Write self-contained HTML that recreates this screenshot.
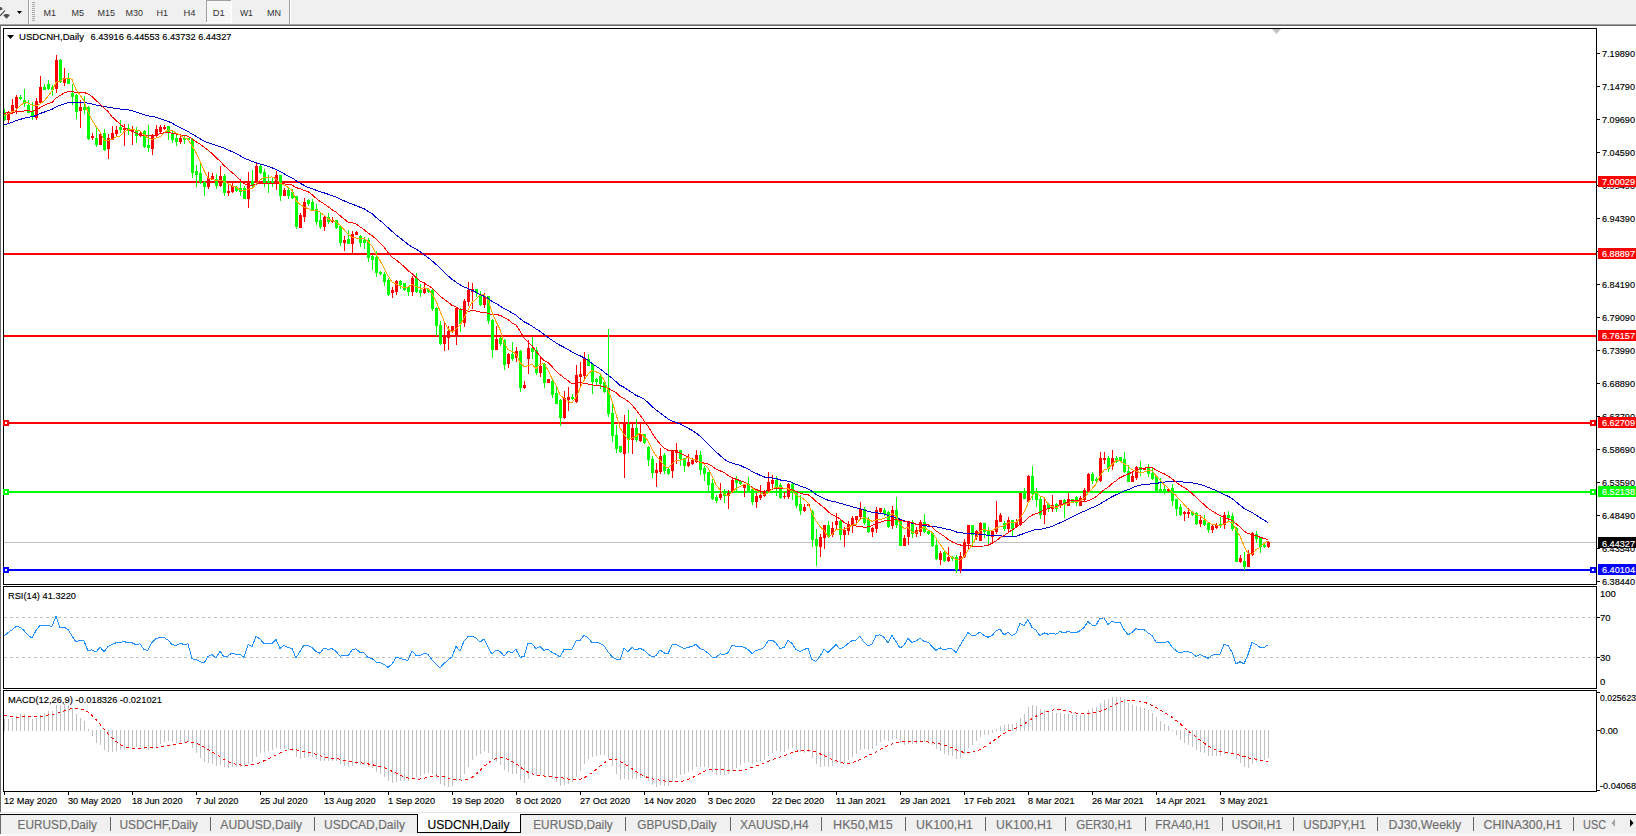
<!DOCTYPE html>
<html><head><meta charset="utf-8"><style>
html,body{margin:0;padding:0;background:#fff;overflow:hidden;}
svg text{font-family:"Liberation Sans", sans-serif;}
</style></head><body>
<svg width="1636" height="836" viewBox="0 0 1636 836" style="display:block">
<rect x="0" y="0" width="1636" height="24" fill="#f0f0f0"/>
<rect x="0" y="24" width="1636" height="1" fill="#a0a0a0"/>
<rect x="0" y="25" width="1636" height="1" fill="#696969"/>
<rect x="0" y="26" width="1636" height="787" fill="#ffffff"/>
<rect x="28" y="0" width="1" height="24" fill="#a0a0a0"/>
<rect x="29" y="0" width="1" height="24" fill="#ffffff"/>
<rect x="32" y="2" width="3" height="1" fill="#a8a8a8"/>
<rect x="32" y="4" width="3" height="1" fill="#a8a8a8"/>
<rect x="32" y="6" width="3" height="1" fill="#a8a8a8"/>
<rect x="32" y="8" width="3" height="1" fill="#a8a8a8"/>
<rect x="32" y="10" width="3" height="1" fill="#a8a8a8"/>
<rect x="32" y="12" width="3" height="1" fill="#a8a8a8"/>
<rect x="32" y="14" width="3" height="1" fill="#a8a8a8"/>
<rect x="32" y="16" width="3" height="1" fill="#a8a8a8"/>
<rect x="32" y="18" width="3" height="1" fill="#a8a8a8"/>
<rect x="32" y="20" width="3" height="1" fill="#a8a8a8"/>
<rect x="289" y="0" width="1" height="24" fill="#a0a0a0"/>
<rect x="290" y="0" width="1" height="24" fill="#ffffff"/>
<rect x="206" y="0" width="26" height="23" fill="#ffffff"/>
<rect x="207" y="1" width="24" height="21" fill="#f7f7f7"/>
<rect x="206" y="0" width="25" height="1" fill="#a0a0a0"/>
<rect x="206" y="0" width="1" height="22" fill="#a0a0a0"/>
<text x="43.5" y="16" font-size="9.4" fill="#333333" textLength="12.5" lengthAdjust="spacingAndGlyphs">M1</text>
<text x="71.6" y="16" font-size="9.4" fill="#333333" textLength="12.5" lengthAdjust="spacingAndGlyphs">M5</text>
<text x="97.6" y="16" font-size="9.4" fill="#333333" textLength="17.5" lengthAdjust="spacingAndGlyphs">M15</text>
<text x="125.4" y="16" font-size="9.4" fill="#333333" textLength="17.5" lengthAdjust="spacingAndGlyphs">M30</text>
<text x="156.4" y="16" font-size="9.4" fill="#333333" textLength="11.5" lengthAdjust="spacingAndGlyphs">H1</text>
<text x="183.4" y="16" font-size="9.4" fill="#333333" textLength="12" lengthAdjust="spacingAndGlyphs">H4</text>
<text x="212.8" y="16" font-size="9.4" fill="#333333" textLength="12" lengthAdjust="spacingAndGlyphs">D1</text>
<text x="239.9" y="16" font-size="9.4" fill="#333333" textLength="13" lengthAdjust="spacingAndGlyphs">W1</text>
<text x="266.9" y="16" font-size="9.4" fill="#333333" textLength="14" lengthAdjust="spacingAndGlyphs">MN</text>
<g stroke="#fff" stroke-width="1" paint-order="stroke" stroke-linejoin="round">
<path d="M0 7 L1.2 7 L3 9.3 L0 10.5 Z" fill="#505050"/>
<path d="M0 15.8 L4.9 10.6" stroke="#404040" stroke-width="1.1" fill="none"/>
<path d="M3.2 15.3 L5 14 L8 14 L9.9 15.3 L6.5 18.8 Z" fill="#505050"/>
</g>
<path d="M1272 29 L1281 29 L1276.5 34 Z" fill="#c0c0c0"/>
<path d="M17 11 L22 11 L19.5 14 Z" fill="#000"/>
<rect x="0" y="26" width="1" height="786" fill="#6b6b6b"/>
<rect x="3" y="28" width="1594" height="1" fill="#000"/>
<rect x="3" y="584" width="1594" height="1" fill="#000"/>
<rect x="3" y="28" width="1" height="557" fill="#000"/>
<rect x="1596" y="28" width="1" height="557" fill="#000"/>
<rect x="3" y="586" width="1594" height="1" fill="#000"/>
<rect x="3" y="688" width="1594" height="1" fill="#000"/>
<rect x="3" y="586" width="1" height="103" fill="#000"/>
<rect x="1596" y="586" width="1" height="103" fill="#000"/>
<rect x="3" y="690" width="1594" height="1" fill="#000"/>
<rect x="3" y="791" width="1594" height="1" fill="#000"/>
<rect x="3" y="690" width="1" height="102" fill="#000"/>
<rect x="1596" y="690" width="1" height="102" fill="#000"/>
<g shape-rendering="crispEdges">
<rect x="1597" y="53" width="3" height="1" fill="#000"/>
<text x="1602" y="57" font-size="9.5" fill="#000" textLength="33" lengthAdjust="spacingAndGlyphs" stroke="#000" stroke-width="0.15">7.19890</text>
<rect x="1597" y="86" width="3" height="1" fill="#000"/>
<text x="1602" y="90" font-size="9.5" fill="#000" textLength="33" lengthAdjust="spacingAndGlyphs" stroke="#000" stroke-width="0.15">7.14790</text>
<rect x="1597" y="119" width="3" height="1" fill="#000"/>
<text x="1602" y="123" font-size="9.5" fill="#000" textLength="33" lengthAdjust="spacingAndGlyphs" stroke="#000" stroke-width="0.15">7.09690</text>
<rect x="1597" y="152" width="3" height="1" fill="#000"/>
<text x="1602" y="156" font-size="9.5" fill="#000" textLength="33" lengthAdjust="spacingAndGlyphs" stroke="#000" stroke-width="0.15">7.04590</text>
<rect x="1597" y="185" width="3" height="1" fill="#000"/>
<text x="1602" y="189" font-size="9.5" fill="#000" textLength="33" lengthAdjust="spacingAndGlyphs" stroke="#000" stroke-width="0.15">6.99490</text>
<rect x="1597" y="218" width="3" height="1" fill="#000"/>
<text x="1602" y="222" font-size="9.5" fill="#000" textLength="33" lengthAdjust="spacingAndGlyphs" stroke="#000" stroke-width="0.15">6.94390</text>
<rect x="1597" y="251" width="3" height="1" fill="#000"/>
<text x="1602" y="255" font-size="9.5" fill="#000" textLength="33" lengthAdjust="spacingAndGlyphs" stroke="#000" stroke-width="0.15">6.89290</text>
<rect x="1597" y="284" width="3" height="1" fill="#000"/>
<text x="1602" y="288" font-size="9.5" fill="#000" textLength="33" lengthAdjust="spacingAndGlyphs" stroke="#000" stroke-width="0.15">6.84190</text>
<rect x="1597" y="317" width="3" height="1" fill="#000"/>
<text x="1602" y="321" font-size="9.5" fill="#000" textLength="33" lengthAdjust="spacingAndGlyphs" stroke="#000" stroke-width="0.15">6.79090</text>
<rect x="1597" y="350" width="3" height="1" fill="#000"/>
<text x="1602" y="354" font-size="9.5" fill="#000" textLength="33" lengthAdjust="spacingAndGlyphs" stroke="#000" stroke-width="0.15">6.73990</text>
<rect x="1597" y="383" width="3" height="1" fill="#000"/>
<text x="1602" y="387" font-size="9.5" fill="#000" textLength="33" lengthAdjust="spacingAndGlyphs" stroke="#000" stroke-width="0.15">6.68890</text>
<rect x="1597" y="416" width="3" height="1" fill="#000"/>
<text x="1602" y="420" font-size="9.5" fill="#000" textLength="33" lengthAdjust="spacingAndGlyphs" stroke="#000" stroke-width="0.15">6.63790</text>
<rect x="1597" y="449" width="3" height="1" fill="#000"/>
<text x="1602" y="453" font-size="9.5" fill="#000" textLength="33" lengthAdjust="spacingAndGlyphs" stroke="#000" stroke-width="0.15">6.58690</text>
<rect x="1597" y="482" width="3" height="1" fill="#000"/>
<text x="1602" y="486" font-size="9.5" fill="#000" textLength="33" lengthAdjust="spacingAndGlyphs" stroke="#000" stroke-width="0.15">6.53590</text>
<rect x="1597" y="515" width="3" height="1" fill="#000"/>
<text x="1602" y="519" font-size="9.5" fill="#000" textLength="33" lengthAdjust="spacingAndGlyphs" stroke="#000" stroke-width="0.15">6.48490</text>
<rect x="1597" y="548" width="3" height="1" fill="#000"/>
<text x="1602" y="552" font-size="9.5" fill="#000" textLength="33" lengthAdjust="spacingAndGlyphs" stroke="#000" stroke-width="0.15">6.43540</text>
<rect x="1597" y="581" width="3" height="1" fill="#000"/>
<text x="1602" y="585" font-size="9.5" fill="#000" textLength="33" lengthAdjust="spacingAndGlyphs" stroke="#000" stroke-width="0.15">6.38440</text>
</g>
<rect x="4" y="181" width="1592" height="2" fill="#ff0000"/>
<rect x="4" y="253" width="1592" height="2" fill="#ff0000"/>
<rect x="4" y="335" width="1592" height="2" fill="#ff0000"/>
<rect x="4" y="422" width="1592" height="2" fill="#ff0000"/>
<rect x="3" y="420" width="6" height="6" fill="#ff0000"/>
<rect x="5" y="422" width="2" height="2" fill="#fff"/>
<rect x="1590" y="420" width="6" height="6" fill="#ff0000"/>
<rect x="1592" y="422" width="2" height="2" fill="#fff"/>
<rect x="4" y="491" width="1592" height="2" fill="#00ff00"/>
<rect x="3" y="489" width="6" height="6" fill="#00ff00"/>
<rect x="5" y="491" width="2" height="2" fill="#fff"/>
<rect x="1590" y="489" width="6" height="6" fill="#00ff00"/>
<rect x="1592" y="491" width="2" height="2" fill="#fff"/>
<rect x="4" y="569" width="1592" height="2" fill="#0000ff"/>
<rect x="3" y="567" width="6" height="6" fill="#0000ff"/>
<rect x="5" y="569" width="2" height="2" fill="#fff"/>
<rect x="1590" y="567" width="6" height="6" fill="#0000ff"/>
<rect x="1592" y="569" width="2" height="2" fill="#fff"/>
<rect x="4" y="542" width="1592" height="1" fill="#c0c0c0"/>
<g shape-rendering="crispEdges">
<rect x="4" y="109" width="1" height="12" fill="#00ff00"/>
<rect x="4" y="112" width="2" height="8" fill="#00ff00"/>
<rect x="8" y="111" width="1" height="12" fill="#ff0000"/>
<rect x="7" y="112" width="3" height="8" fill="#ff0000"/>
<rect x="12" y="99" width="1" height="15" fill="#ff0000"/>
<rect x="11" y="105" width="3" height="8" fill="#ff0000"/>
<rect x="16" y="95" width="1" height="19" fill="#ff0000"/>
<rect x="15" y="97" width="3" height="11" fill="#ff0000"/>
<rect x="20" y="95" width="1" height="5" fill="#00ff00"/>
<rect x="19" y="97" width="3" height="2" fill="#00ff00"/>
<rect x="24" y="89" width="1" height="18" fill="#00ff00"/>
<rect x="23" y="100" width="3" height="4" fill="#00ff00"/>
<rect x="28" y="100" width="1" height="13" fill="#00ff00"/>
<rect x="27" y="105" width="3" height="8" fill="#00ff00"/>
<rect x="32" y="102" width="1" height="18" fill="#00ff00"/>
<rect x="31" y="111" width="3" height="6" fill="#00ff00"/>
<rect x="36" y="98" width="1" height="22" fill="#ff0000"/>
<rect x="35" y="101" width="3" height="17" fill="#ff0000"/>
<rect x="40" y="76" width="1" height="28" fill="#ff0000"/>
<rect x="39" y="87" width="3" height="16" fill="#ff0000"/>
<rect x="44" y="84" width="1" height="6" fill="#00ff00"/>
<rect x="43" y="87" width="3" height="3" fill="#00ff00"/>
<rect x="48" y="80" width="1" height="10" fill="#00ff00"/>
<rect x="47" y="84" width="3" height="5" fill="#00ff00"/>
<rect x="52" y="85" width="1" height="11" fill="#00ff00"/>
<rect x="51" y="87" width="3" height="3" fill="#00ff00"/>
<rect x="56" y="55" width="1" height="38" fill="#ff0000"/>
<rect x="55" y="60" width="3" height="29" fill="#ff0000"/>
<rect x="60" y="59" width="1" height="24" fill="#00ff00"/>
<rect x="59" y="60" width="3" height="22" fill="#00ff00"/>
<rect x="64" y="68" width="1" height="18" fill="#ff0000"/>
<rect x="63" y="78" width="3" height="5" fill="#ff0000"/>
<rect x="68" y="73" width="1" height="11" fill="#00ff00"/>
<rect x="67" y="78" width="3" height="6" fill="#00ff00"/>
<rect x="72" y="84" width="1" height="21" fill="#00ff00"/>
<rect x="71" y="93" width="3" height="4" fill="#00ff00"/>
<rect x="76" y="94" width="1" height="25" fill="#00ff00"/>
<rect x="75" y="95" width="3" height="17" fill="#00ff00"/>
<rect x="80" y="100" width="1" height="28" fill="#ff0000"/>
<rect x="79" y="107" width="3" height="4" fill="#ff0000"/>
<rect x="84" y="96" width="1" height="18" fill="#00ff00"/>
<rect x="83" y="107" width="3" height="3" fill="#00ff00"/>
<rect x="88" y="106" width="1" height="34" fill="#00ff00"/>
<rect x="87" y="107" width="3" height="32" fill="#00ff00"/>
<rect x="92" y="133" width="1" height="7" fill="#ff0000"/>
<rect x="91" y="136" width="3" height="2" fill="#ff0000"/>
<rect x="96" y="127" width="1" height="20" fill="#00ff00"/>
<rect x="95" y="138" width="3" height="7" fill="#00ff00"/>
<rect x="100" y="133" width="1" height="12" fill="#ff0000"/>
<rect x="99" y="134" width="3" height="11" fill="#ff0000"/>
<rect x="104" y="129" width="1" height="22" fill="#00ff00"/>
<rect x="103" y="133" width="3" height="17" fill="#00ff00"/>
<rect x="108" y="134" width="1" height="25" fill="#ff0000"/>
<rect x="107" y="138" width="3" height="11" fill="#ff0000"/>
<rect x="112" y="126" width="1" height="14" fill="#ff0000"/>
<rect x="111" y="133" width="3" height="7" fill="#ff0000"/>
<rect x="116" y="126" width="1" height="10" fill="#ff0000"/>
<rect x="115" y="130" width="3" height="4" fill="#ff0000"/>
<rect x="120" y="120" width="1" height="13" fill="#00ff00"/>
<rect x="119" y="127" width="3" height="3" fill="#00ff00"/>
<rect x="124" y="124" width="1" height="22" fill="#ff0000"/>
<rect x="123" y="128" width="3" height="2" fill="#ff0000"/>
<rect x="128" y="124" width="1" height="11" fill="#00ff00"/>
<rect x="127" y="128" width="3" height="3" fill="#00ff00"/>
<rect x="132" y="126" width="1" height="19" fill="#ff0000"/>
<rect x="131" y="130" width="3" height="2" fill="#ff0000"/>
<rect x="136" y="127" width="1" height="16" fill="#00ff00"/>
<rect x="135" y="131" width="3" height="5" fill="#00ff00"/>
<rect x="140" y="132" width="1" height="5" fill="#ff0000"/>
<rect x="139" y="133" width="3" height="3" fill="#ff0000"/>
<rect x="144" y="130" width="1" height="18" fill="#00ff00"/>
<rect x="143" y="131" width="3" height="16" fill="#00ff00"/>
<rect x="148" y="125" width="1" height="27" fill="#00ff00"/>
<rect x="147" y="145" width="3" height="3" fill="#00ff00"/>
<rect x="152" y="134" width="1" height="21" fill="#ff0000"/>
<rect x="151" y="135" width="3" height="14" fill="#ff0000"/>
<rect x="156" y="125" width="1" height="12" fill="#ff0000"/>
<rect x="155" y="129" width="3" height="7" fill="#ff0000"/>
<rect x="160" y="125" width="1" height="9" fill="#ff0000"/>
<rect x="159" y="127" width="3" height="5" fill="#ff0000"/>
<rect x="164" y="125" width="1" height="5" fill="#ff0000"/>
<rect x="163" y="127" width="3" height="2" fill="#ff0000"/>
<rect x="168" y="126" width="1" height="14" fill="#00ff00"/>
<rect x="167" y="126" width="3" height="6" fill="#00ff00"/>
<rect x="172" y="131" width="1" height="12" fill="#00ff00"/>
<rect x="171" y="134" width="3" height="6" fill="#00ff00"/>
<rect x="176" y="135" width="1" height="11" fill="#00ff00"/>
<rect x="175" y="138" width="3" height="4" fill="#00ff00"/>
<rect x="180" y="136" width="1" height="8" fill="#ff0000"/>
<rect x="179" y="138" width="3" height="4" fill="#ff0000"/>
<rect x="184" y="136" width="1" height="8" fill="#00ff00"/>
<rect x="183" y="138" width="3" height="2" fill="#00ff00"/>
<rect x="188" y="138" width="1" height="2" fill="#00ff00"/>
<rect x="187" y="138" width="3" height="2" fill="#00ff00"/>
<rect x="192" y="138" width="1" height="40" fill="#00ff00"/>
<rect x="191" y="139" width="3" height="34" fill="#00ff00"/>
<rect x="196" y="165" width="1" height="22" fill="#00ff00"/>
<rect x="195" y="171" width="3" height="4" fill="#00ff00"/>
<rect x="200" y="163" width="1" height="21" fill="#00ff00"/>
<rect x="199" y="173" width="3" height="9" fill="#00ff00"/>
<rect x="204" y="181" width="1" height="15" fill="#00ff00"/>
<rect x="203" y="182" width="3" height="5" fill="#00ff00"/>
<rect x="208" y="172" width="1" height="17" fill="#ff0000"/>
<rect x="207" y="178" width="3" height="9" fill="#ff0000"/>
<rect x="212" y="173" width="1" height="7" fill="#ff0000"/>
<rect x="211" y="176" width="3" height="4" fill="#ff0000"/>
<rect x="216" y="174" width="1" height="15" fill="#00ff00"/>
<rect x="215" y="179" width="3" height="7" fill="#00ff00"/>
<rect x="220" y="166" width="1" height="21" fill="#ff0000"/>
<rect x="219" y="176" width="3" height="10" fill="#ff0000"/>
<rect x="224" y="174" width="1" height="22" fill="#00ff00"/>
<rect x="223" y="176" width="3" height="17" fill="#00ff00"/>
<rect x="228" y="185" width="1" height="11" fill="#ff0000"/>
<rect x="227" y="191" width="3" height="2" fill="#ff0000"/>
<rect x="232" y="183" width="1" height="10" fill="#ff0000"/>
<rect x="231" y="186" width="3" height="6" fill="#ff0000"/>
<rect x="236" y="186" width="1" height="6" fill="#00ff00"/>
<rect x="235" y="187" width="3" height="4" fill="#00ff00"/>
<rect x="240" y="182" width="1" height="14" fill="#00ff00"/>
<rect x="239" y="188" width="3" height="4" fill="#00ff00"/>
<rect x="244" y="186" width="1" height="13" fill="#00ff00"/>
<rect x="243" y="188" width="3" height="11" fill="#00ff00"/>
<rect x="248" y="172" width="1" height="36" fill="#ff0000"/>
<rect x="247" y="181" width="3" height="18" fill="#ff0000"/>
<rect x="252" y="170" width="1" height="17" fill="#00ff00"/>
<rect x="251" y="181" width="3" height="5" fill="#00ff00"/>
<rect x="256" y="163" width="1" height="22" fill="#ff0000"/>
<rect x="255" y="166" width="3" height="17" fill="#ff0000"/>
<rect x="260" y="165" width="1" height="9" fill="#00ff00"/>
<rect x="259" y="166" width="3" height="7" fill="#00ff00"/>
<rect x="264" y="169" width="1" height="18" fill="#00ff00"/>
<rect x="263" y="172" width="3" height="11" fill="#00ff00"/>
<rect x="268" y="175" width="1" height="18" fill="#00ff00"/>
<rect x="267" y="181" width="3" height="2" fill="#00ff00"/>
<rect x="272" y="177" width="1" height="10" fill="#00ff00"/>
<rect x="271" y="181" width="3" height="2" fill="#00ff00"/>
<rect x="276" y="171" width="1" height="19" fill="#ff0000"/>
<rect x="275" y="175" width="3" height="8" fill="#ff0000"/>
<rect x="280" y="175" width="1" height="26" fill="#00ff00"/>
<rect x="279" y="175" width="3" height="21" fill="#00ff00"/>
<rect x="284" y="188" width="1" height="8" fill="#ff0000"/>
<rect x="283" y="190" width="3" height="6" fill="#ff0000"/>
<rect x="288" y="188" width="1" height="11" fill="#00ff00"/>
<rect x="287" y="190" width="3" height="6" fill="#00ff00"/>
<rect x="292" y="189" width="1" height="10" fill="#00ff00"/>
<rect x="291" y="192" width="3" height="6" fill="#00ff00"/>
<rect x="296" y="196" width="1" height="33" fill="#00ff00"/>
<rect x="295" y="196" width="3" height="31" fill="#00ff00"/>
<rect x="300" y="213" width="1" height="15" fill="#ff0000"/>
<rect x="299" y="215" width="3" height="13" fill="#ff0000"/>
<rect x="304" y="198" width="1" height="24" fill="#ff0000"/>
<rect x="303" y="202" width="3" height="15" fill="#ff0000"/>
<rect x="308" y="199" width="1" height="7" fill="#00ff00"/>
<rect x="307" y="200" width="3" height="4" fill="#00ff00"/>
<rect x="312" y="199" width="1" height="12" fill="#00ff00"/>
<rect x="311" y="202" width="3" height="8" fill="#00ff00"/>
<rect x="316" y="204" width="1" height="21" fill="#00ff00"/>
<rect x="315" y="209" width="3" height="13" fill="#00ff00"/>
<rect x="320" y="212" width="1" height="17" fill="#00ff00"/>
<rect x="319" y="220" width="3" height="7" fill="#00ff00"/>
<rect x="324" y="216" width="1" height="15" fill="#ff0000"/>
<rect x="323" y="217" width="3" height="10" fill="#ff0000"/>
<rect x="328" y="213" width="1" height="11" fill="#00ff00"/>
<rect x="327" y="217" width="3" height="5" fill="#00ff00"/>
<rect x="332" y="217" width="1" height="6" fill="#ff0000"/>
<rect x="331" y="220" width="3" height="2" fill="#ff0000"/>
<rect x="336" y="220" width="1" height="9" fill="#00ff00"/>
<rect x="335" y="220" width="3" height="8" fill="#00ff00"/>
<rect x="340" y="226" width="1" height="20" fill="#00ff00"/>
<rect x="339" y="226" width="3" height="17" fill="#00ff00"/>
<rect x="344" y="236" width="1" height="15" fill="#ff0000"/>
<rect x="343" y="240" width="3" height="3" fill="#ff0000"/>
<rect x="348" y="230" width="1" height="14" fill="#00ff00"/>
<rect x="347" y="239" width="3" height="5" fill="#00ff00"/>
<rect x="352" y="231" width="1" height="24" fill="#ff0000"/>
<rect x="351" y="234" width="3" height="10" fill="#ff0000"/>
<rect x="356" y="231" width="1" height="4" fill="#ff0000"/>
<rect x="355" y="232" width="3" height="3" fill="#ff0000"/>
<rect x="360" y="235" width="1" height="12" fill="#00ff00"/>
<rect x="359" y="236" width="3" height="7" fill="#00ff00"/>
<rect x="364" y="237" width="1" height="12" fill="#00ff00"/>
<rect x="363" y="240" width="3" height="3" fill="#00ff00"/>
<rect x="368" y="238" width="1" height="24" fill="#00ff00"/>
<rect x="367" y="240" width="3" height="18" fill="#00ff00"/>
<rect x="372" y="255" width="1" height="15" fill="#00ff00"/>
<rect x="371" y="256" width="3" height="4" fill="#00ff00"/>
<rect x="376" y="251" width="1" height="26" fill="#00ff00"/>
<rect x="375" y="257" width="3" height="16" fill="#00ff00"/>
<rect x="380" y="271" width="1" height="4" fill="#00ff00"/>
<rect x="379" y="272" width="3" height="2" fill="#00ff00"/>
<rect x="384" y="272" width="1" height="14" fill="#00ff00"/>
<rect x="383" y="274" width="3" height="8" fill="#00ff00"/>
<rect x="388" y="278" width="1" height="18" fill="#00ff00"/>
<rect x="387" y="280" width="3" height="15" fill="#00ff00"/>
<rect x="392" y="287" width="1" height="11" fill="#ff0000"/>
<rect x="391" y="290" width="3" height="3" fill="#ff0000"/>
<rect x="396" y="280" width="1" height="15" fill="#ff0000"/>
<rect x="395" y="281" width="3" height="11" fill="#ff0000"/>
<rect x="400" y="280" width="1" height="9" fill="#00ff00"/>
<rect x="399" y="281" width="3" height="4" fill="#00ff00"/>
<rect x="404" y="283" width="1" height="8" fill="#00ff00"/>
<rect x="403" y="283" width="3" height="7" fill="#00ff00"/>
<rect x="408" y="286" width="1" height="10" fill="#00ff00"/>
<rect x="407" y="287" width="3" height="5" fill="#00ff00"/>
<rect x="412" y="276" width="1" height="20" fill="#ff0000"/>
<rect x="411" y="278" width="3" height="14" fill="#ff0000"/>
<rect x="416" y="273" width="1" height="20" fill="#00ff00"/>
<rect x="415" y="278" width="3" height="14" fill="#00ff00"/>
<rect x="420" y="284" width="1" height="13" fill="#00ff00"/>
<rect x="419" y="290" width="3" height="3" fill="#00ff00"/>
<rect x="424" y="282" width="1" height="12" fill="#ff0000"/>
<rect x="423" y="289" width="3" height="4" fill="#ff0000"/>
<rect x="428" y="289" width="1" height="4" fill="#00ff00"/>
<rect x="427" y="289" width="3" height="3" fill="#00ff00"/>
<rect x="432" y="289" width="1" height="22" fill="#00ff00"/>
<rect x="431" y="290" width="3" height="19" fill="#00ff00"/>
<rect x="436" y="307" width="1" height="29" fill="#00ff00"/>
<rect x="435" y="308" width="3" height="18" fill="#00ff00"/>
<rect x="440" y="321" width="1" height="24" fill="#00ff00"/>
<rect x="439" y="325" width="3" height="19" fill="#00ff00"/>
<rect x="444" y="323" width="1" height="28" fill="#ff0000"/>
<rect x="443" y="337" width="3" height="7" fill="#ff0000"/>
<rect x="448" y="326" width="1" height="24" fill="#ff0000"/>
<rect x="447" y="331" width="3" height="7" fill="#ff0000"/>
<rect x="452" y="326" width="1" height="7" fill="#ff0000"/>
<rect x="451" y="326" width="3" height="6" fill="#ff0000"/>
<rect x="456" y="308" width="1" height="37" fill="#ff0000"/>
<rect x="455" y="308" width="3" height="27" fill="#ff0000"/>
<rect x="460" y="308" width="1" height="24" fill="#00ff00"/>
<rect x="459" y="310" width="3" height="14" fill="#00ff00"/>
<rect x="464" y="299" width="1" height="28" fill="#ff0000"/>
<rect x="463" y="301" width="3" height="22" fill="#ff0000"/>
<rect x="468" y="282" width="1" height="24" fill="#ff0000"/>
<rect x="467" y="290" width="3" height="12" fill="#ff0000"/>
<rect x="472" y="283" width="1" height="26" fill="#ff0000"/>
<rect x="471" y="289" width="3" height="3" fill="#ff0000"/>
<rect x="476" y="289" width="1" height="8" fill="#00ff00"/>
<rect x="475" y="289" width="3" height="4" fill="#00ff00"/>
<rect x="480" y="291" width="1" height="15" fill="#00ff00"/>
<rect x="479" y="295" width="3" height="10" fill="#00ff00"/>
<rect x="484" y="293" width="1" height="15" fill="#ff0000"/>
<rect x="483" y="296" width="3" height="9" fill="#ff0000"/>
<rect x="488" y="296" width="1" height="28" fill="#00ff00"/>
<rect x="487" y="296" width="3" height="25" fill="#00ff00"/>
<rect x="492" y="319" width="1" height="39" fill="#00ff00"/>
<rect x="491" y="320" width="3" height="30" fill="#00ff00"/>
<rect x="496" y="326" width="1" height="24" fill="#ff0000"/>
<rect x="495" y="339" width="3" height="11" fill="#ff0000"/>
<rect x="500" y="337" width="1" height="9" fill="#00ff00"/>
<rect x="499" y="338" width="3" height="6" fill="#00ff00"/>
<rect x="504" y="339" width="1" height="31" fill="#00ff00"/>
<rect x="503" y="340" width="3" height="25" fill="#00ff00"/>
<rect x="508" y="353" width="1" height="15" fill="#ff0000"/>
<rect x="507" y="354" width="3" height="10" fill="#ff0000"/>
<rect x="512" y="342" width="1" height="19" fill="#00ff00"/>
<rect x="511" y="354" width="3" height="5" fill="#00ff00"/>
<rect x="516" y="347" width="1" height="15" fill="#ff0000"/>
<rect x="515" y="351" width="3" height="7" fill="#ff0000"/>
<rect x="520" y="350" width="1" height="42" fill="#00ff00"/>
<rect x="519" y="351" width="3" height="37" fill="#00ff00"/>
<rect x="524" y="381" width="1" height="8" fill="#ff0000"/>
<rect x="523" y="385" width="3" height="3" fill="#ff0000"/>
<rect x="528" y="340" width="1" height="34" fill="#ff0000"/>
<rect x="527" y="348" width="3" height="11" fill="#ff0000"/>
<rect x="532" y="337" width="1" height="22" fill="#00ff00"/>
<rect x="531" y="348" width="3" height="4" fill="#00ff00"/>
<rect x="536" y="347" width="1" height="28" fill="#00ff00"/>
<rect x="535" y="350" width="3" height="23" fill="#00ff00"/>
<rect x="540" y="357" width="1" height="20" fill="#ff0000"/>
<rect x="539" y="366" width="3" height="7" fill="#ff0000"/>
<rect x="544" y="363" width="1" height="25" fill="#00ff00"/>
<rect x="543" y="364" width="3" height="19" fill="#00ff00"/>
<rect x="548" y="379" width="1" height="4" fill="#ff0000"/>
<rect x="547" y="379" width="3" height="4" fill="#ff0000"/>
<rect x="552" y="378" width="1" height="20" fill="#00ff00"/>
<rect x="551" y="381" width="3" height="14" fill="#00ff00"/>
<rect x="556" y="387" width="1" height="17" fill="#00ff00"/>
<rect x="555" y="393" width="3" height="11" fill="#00ff00"/>
<rect x="560" y="399" width="1" height="27" fill="#00ff00"/>
<rect x="559" y="400" width="3" height="18" fill="#00ff00"/>
<rect x="564" y="391" width="1" height="28" fill="#ff0000"/>
<rect x="563" y="398" width="3" height="20" fill="#ff0000"/>
<rect x="568" y="387" width="1" height="24" fill="#ff0000"/>
<rect x="567" y="397" width="3" height="3" fill="#ff0000"/>
<rect x="572" y="394" width="1" height="6" fill="#00ff00"/>
<rect x="571" y="397" width="3" height="2" fill="#00ff00"/>
<rect x="576" y="365" width="1" height="38" fill="#ff0000"/>
<rect x="575" y="375" width="3" height="27" fill="#ff0000"/>
<rect x="580" y="362" width="1" height="24" fill="#ff0000"/>
<rect x="579" y="374" width="3" height="3" fill="#ff0000"/>
<rect x="584" y="352" width="1" height="27" fill="#ff0000"/>
<rect x="583" y="358" width="3" height="18" fill="#ff0000"/>
<rect x="588" y="354" width="1" height="12" fill="#00ff00"/>
<rect x="587" y="359" width="3" height="7" fill="#00ff00"/>
<rect x="592" y="363" width="1" height="31" fill="#00ff00"/>
<rect x="591" y="364" width="3" height="18" fill="#00ff00"/>
<rect x="596" y="378" width="1" height="8" fill="#00ff00"/>
<rect x="595" y="379" width="3" height="3" fill="#00ff00"/>
<rect x="600" y="374" width="1" height="15" fill="#00ff00"/>
<rect x="599" y="376" width="3" height="8" fill="#00ff00"/>
<rect x="604" y="381" width="1" height="12" fill="#00ff00"/>
<rect x="603" y="382" width="3" height="10" fill="#00ff00"/>
<rect x="608" y="329" width="1" height="88" fill="#00ff00"/>
<rect x="607" y="390" width="3" height="24" fill="#00ff00"/>
<rect x="612" y="402" width="1" height="40" fill="#00ff00"/>
<rect x="611" y="413" width="3" height="23" fill="#00ff00"/>
<rect x="616" y="425" width="1" height="28" fill="#00ff00"/>
<rect x="615" y="435" width="3" height="14" fill="#00ff00"/>
<rect x="620" y="446" width="1" height="7" fill="#00ff00"/>
<rect x="619" y="446" width="3" height="6" fill="#00ff00"/>
<rect x="624" y="415" width="1" height="63" fill="#ff0000"/>
<rect x="623" y="424" width="3" height="30" fill="#ff0000"/>
<rect x="628" y="410" width="1" height="43" fill="#00ff00"/>
<rect x="627" y="424" width="3" height="16" fill="#00ff00"/>
<rect x="632" y="424" width="1" height="30" fill="#ff0000"/>
<rect x="631" y="428" width="3" height="12" fill="#ff0000"/>
<rect x="636" y="419" width="1" height="23" fill="#00ff00"/>
<rect x="635" y="428" width="3" height="12" fill="#00ff00"/>
<rect x="640" y="424" width="1" height="18" fill="#ff0000"/>
<rect x="639" y="434" width="3" height="7" fill="#ff0000"/>
<rect x="644" y="434" width="1" height="10" fill="#00ff00"/>
<rect x="643" y="434" width="3" height="9" fill="#00ff00"/>
<rect x="648" y="446" width="1" height="20" fill="#00ff00"/>
<rect x="647" y="447" width="3" height="13" fill="#00ff00"/>
<rect x="652" y="456" width="1" height="22" fill="#00ff00"/>
<rect x="651" y="459" width="3" height="14" fill="#00ff00"/>
<rect x="656" y="463" width="1" height="24" fill="#ff0000"/>
<rect x="655" y="470" width="3" height="3" fill="#ff0000"/>
<rect x="660" y="448" width="1" height="26" fill="#ff0000"/>
<rect x="659" y="456" width="3" height="16" fill="#ff0000"/>
<rect x="664" y="453" width="1" height="21" fill="#00ff00"/>
<rect x="663" y="455" width="3" height="16" fill="#00ff00"/>
<rect x="668" y="468" width="1" height="7" fill="#00ff00"/>
<rect x="667" y="469" width="3" height="5" fill="#00ff00"/>
<rect x="672" y="450" width="1" height="28" fill="#ff0000"/>
<rect x="671" y="451" width="3" height="20" fill="#ff0000"/>
<rect x="676" y="443" width="1" height="21" fill="#ff0000"/>
<rect x="675" y="450" width="3" height="3" fill="#ff0000"/>
<rect x="680" y="450" width="1" height="16" fill="#00ff00"/>
<rect x="679" y="450" width="3" height="9" fill="#00ff00"/>
<rect x="684" y="458" width="1" height="14" fill="#00ff00"/>
<rect x="683" y="458" width="3" height="8" fill="#00ff00"/>
<rect x="688" y="454" width="1" height="13" fill="#ff0000"/>
<rect x="687" y="462" width="3" height="4" fill="#ff0000"/>
<rect x="692" y="459" width="1" height="6" fill="#ff0000"/>
<rect x="691" y="460" width="3" height="4" fill="#ff0000"/>
<rect x="696" y="450" width="1" height="13" fill="#ff0000"/>
<rect x="695" y="455" width="3" height="7" fill="#ff0000"/>
<rect x="700" y="451" width="1" height="24" fill="#00ff00"/>
<rect x="699" y="455" width="3" height="15" fill="#00ff00"/>
<rect x="704" y="466" width="1" height="15" fill="#00ff00"/>
<rect x="703" y="468" width="3" height="6" fill="#00ff00"/>
<rect x="708" y="472" width="1" height="20" fill="#00ff00"/>
<rect x="707" y="472" width="3" height="13" fill="#00ff00"/>
<rect x="712" y="479" width="1" height="21" fill="#00ff00"/>
<rect x="711" y="483" width="3" height="16" fill="#00ff00"/>
<rect x="716" y="495" width="1" height="8" fill="#00ff00"/>
<rect x="715" y="497" width="3" height="4" fill="#00ff00"/>
<rect x="720" y="483" width="1" height="17" fill="#ff0000"/>
<rect x="719" y="494" width="3" height="4" fill="#ff0000"/>
<rect x="724" y="489" width="1" height="14" fill="#00ff00"/>
<rect x="723" y="493" width="3" height="3" fill="#00ff00"/>
<rect x="728" y="490" width="1" height="19" fill="#ff0000"/>
<rect x="727" y="493" width="3" height="3" fill="#ff0000"/>
<rect x="732" y="477" width="1" height="16" fill="#ff0000"/>
<rect x="731" y="480" width="3" height="12" fill="#ff0000"/>
<rect x="736" y="476" width="1" height="15" fill="#00ff00"/>
<rect x="735" y="479" width="3" height="4" fill="#00ff00"/>
<rect x="740" y="480" width="1" height="5" fill="#00ff00"/>
<rect x="739" y="481" width="3" height="3" fill="#00ff00"/>
<rect x="744" y="484" width="1" height="13" fill="#ff0000"/>
<rect x="743" y="484" width="3" height="4" fill="#ff0000"/>
<rect x="748" y="477" width="1" height="14" fill="#00ff00"/>
<rect x="747" y="484" width="3" height="7" fill="#00ff00"/>
<rect x="752" y="489" width="1" height="16" fill="#00ff00"/>
<rect x="751" y="489" width="3" height="13" fill="#00ff00"/>
<rect x="756" y="493" width="1" height="15" fill="#ff0000"/>
<rect x="755" y="496" width="3" height="6" fill="#ff0000"/>
<rect x="760" y="485" width="1" height="15" fill="#ff0000"/>
<rect x="759" y="495" width="3" height="3" fill="#ff0000"/>
<rect x="764" y="490" width="1" height="7" fill="#ff0000"/>
<rect x="763" y="492" width="3" height="4" fill="#ff0000"/>
<rect x="768" y="472" width="1" height="20" fill="#ff0000"/>
<rect x="767" y="482" width="3" height="9" fill="#ff0000"/>
<rect x="772" y="475" width="1" height="15" fill="#ff0000"/>
<rect x="771" y="480" width="3" height="4" fill="#ff0000"/>
<rect x="776" y="476" width="1" height="20" fill="#00ff00"/>
<rect x="775" y="480" width="3" height="7" fill="#00ff00"/>
<rect x="780" y="483" width="1" height="16" fill="#00ff00"/>
<rect x="779" y="485" width="3" height="13" fill="#00ff00"/>
<rect x="784" y="492" width="1" height="7" fill="#ff0000"/>
<rect x="783" y="496" width="3" height="1" fill="#ff0000"/>
<rect x="788" y="483" width="1" height="16" fill="#ff0000"/>
<rect x="787" y="484" width="3" height="13" fill="#ff0000"/>
<rect x="792" y="483" width="1" height="17" fill="#00ff00"/>
<rect x="791" y="484" width="3" height="8" fill="#00ff00"/>
<rect x="796" y="492" width="1" height="16" fill="#00ff00"/>
<rect x="795" y="493" width="3" height="13" fill="#00ff00"/>
<rect x="800" y="495" width="1" height="20" fill="#00ff00"/>
<rect x="799" y="504" width="3" height="7" fill="#00ff00"/>
<rect x="804" y="504" width="1" height="8" fill="#ff0000"/>
<rect x="803" y="507" width="3" height="4" fill="#ff0000"/>
<rect x="808" y="504" width="1" height="2" fill="#ff0000"/>
<rect x="807" y="504" width="3" height="2" fill="#ff0000"/>
<rect x="812" y="510" width="1" height="37" fill="#00ff00"/>
<rect x="811" y="511" width="3" height="29" fill="#00ff00"/>
<rect x="816" y="529" width="1" height="37" fill="#00ff00"/>
<rect x="815" y="539" width="3" height="7" fill="#00ff00"/>
<rect x="820" y="534" width="1" height="23" fill="#ff0000"/>
<rect x="819" y="537" width="3" height="10" fill="#ff0000"/>
<rect x="824" y="525" width="1" height="24" fill="#ff0000"/>
<rect x="823" y="525" width="3" height="13" fill="#ff0000"/>
<rect x="828" y="521" width="1" height="17" fill="#00ff00"/>
<rect x="827" y="525" width="3" height="12" fill="#00ff00"/>
<rect x="832" y="522" width="1" height="15" fill="#ff0000"/>
<rect x="831" y="528" width="3" height="7" fill="#ff0000"/>
<rect x="836" y="513" width="1" height="16" fill="#ff0000"/>
<rect x="835" y="521" width="3" height="4" fill="#ff0000"/>
<rect x="840" y="520" width="1" height="20" fill="#00ff00"/>
<rect x="839" y="521" width="3" height="14" fill="#00ff00"/>
<rect x="844" y="527" width="1" height="20" fill="#ff0000"/>
<rect x="843" y="530" width="3" height="5" fill="#ff0000"/>
<rect x="848" y="521" width="1" height="14" fill="#ff0000"/>
<rect x="847" y="524" width="3" height="7" fill="#ff0000"/>
<rect x="852" y="516" width="1" height="17" fill="#ff0000"/>
<rect x="851" y="518" width="3" height="8" fill="#ff0000"/>
<rect x="856" y="516" width="1" height="7" fill="#ff0000"/>
<rect x="855" y="516" width="3" height="4" fill="#ff0000"/>
<rect x="860" y="502" width="1" height="17" fill="#ff0000"/>
<rect x="859" y="509" width="3" height="8" fill="#ff0000"/>
<rect x="864" y="507" width="1" height="18" fill="#00ff00"/>
<rect x="863" y="509" width="3" height="14" fill="#00ff00"/>
<rect x="868" y="517" width="1" height="16" fill="#00ff00"/>
<rect x="867" y="520" width="3" height="12" fill="#00ff00"/>
<rect x="872" y="527" width="1" height="10" fill="#ff0000"/>
<rect x="871" y="528" width="3" height="4" fill="#ff0000"/>
<rect x="876" y="507" width="1" height="26" fill="#ff0000"/>
<rect x="875" y="510" width="3" height="19" fill="#ff0000"/>
<rect x="880" y="508" width="1" height="6" fill="#ff0000"/>
<rect x="879" y="508" width="3" height="4" fill="#ff0000"/>
<rect x="884" y="508" width="1" height="8" fill="#00ff00"/>
<rect x="883" y="510" width="3" height="4" fill="#00ff00"/>
<rect x="888" y="511" width="1" height="17" fill="#00ff00"/>
<rect x="887" y="512" width="3" height="15" fill="#00ff00"/>
<rect x="892" y="506" width="1" height="23" fill="#ff0000"/>
<rect x="891" y="510" width="3" height="16" fill="#ff0000"/>
<rect x="896" y="497" width="1" height="31" fill="#00ff00"/>
<rect x="895" y="510" width="3" height="15" fill="#00ff00"/>
<rect x="900" y="519" width="1" height="27" fill="#00ff00"/>
<rect x="899" y="521" width="3" height="25" fill="#00ff00"/>
<rect x="904" y="535" width="1" height="11" fill="#ff0000"/>
<rect x="903" y="538" width="3" height="8" fill="#ff0000"/>
<rect x="908" y="521" width="1" height="24" fill="#ff0000"/>
<rect x="907" y="521" width="3" height="16" fill="#ff0000"/>
<rect x="912" y="520" width="1" height="18" fill="#00ff00"/>
<rect x="911" y="522" width="3" height="12" fill="#00ff00"/>
<rect x="916" y="527" width="1" height="10" fill="#ff0000"/>
<rect x="915" y="530" width="3" height="4" fill="#ff0000"/>
<rect x="920" y="520" width="1" height="16" fill="#ff0000"/>
<rect x="919" y="522" width="3" height="10" fill="#ff0000"/>
<rect x="924" y="514" width="1" height="19" fill="#00ff00"/>
<rect x="923" y="522" width="3" height="10" fill="#00ff00"/>
<rect x="928" y="530" width="1" height="5" fill="#00ff00"/>
<rect x="927" y="531" width="3" height="3" fill="#00ff00"/>
<rect x="932" y="533" width="1" height="14" fill="#00ff00"/>
<rect x="931" y="533" width="3" height="13" fill="#00ff00"/>
<rect x="936" y="540" width="1" height="20" fill="#00ff00"/>
<rect x="935" y="545" width="3" height="14" fill="#00ff00"/>
<rect x="940" y="551" width="1" height="14" fill="#ff0000"/>
<rect x="939" y="553" width="3" height="7" fill="#ff0000"/>
<rect x="944" y="550" width="1" height="12" fill="#00ff00"/>
<rect x="943" y="552" width="3" height="9" fill="#00ff00"/>
<rect x="948" y="547" width="1" height="15" fill="#ff0000"/>
<rect x="947" y="557" width="3" height="4" fill="#ff0000"/>
<rect x="952" y="556" width="1" height="5" fill="#00ff00"/>
<rect x="951" y="557" width="3" height="2" fill="#00ff00"/>
<rect x="956" y="555" width="1" height="18" fill="#00ff00"/>
<rect x="955" y="557" width="3" height="13" fill="#00ff00"/>
<rect x="960" y="552" width="1" height="21" fill="#ff0000"/>
<rect x="959" y="556" width="3" height="14" fill="#ff0000"/>
<rect x="964" y="539" width="1" height="19" fill="#ff0000"/>
<rect x="963" y="542" width="3" height="15" fill="#ff0000"/>
<rect x="968" y="525" width="1" height="25" fill="#ff0000"/>
<rect x="967" y="525" width="3" height="19" fill="#ff0000"/>
<rect x="972" y="525" width="1" height="21" fill="#00ff00"/>
<rect x="971" y="525" width="3" height="10" fill="#00ff00"/>
<rect x="976" y="530" width="1" height="10" fill="#ff0000"/>
<rect x="975" y="531" width="3" height="6" fill="#ff0000"/>
<rect x="980" y="522" width="1" height="19" fill="#ff0000"/>
<rect x="979" y="523" width="3" height="18" fill="#ff0000"/>
<rect x="984" y="523" width="1" height="15" fill="#00ff00"/>
<rect x="983" y="523" width="3" height="9" fill="#00ff00"/>
<rect x="988" y="527" width="1" height="19" fill="#00ff00"/>
<rect x="987" y="531" width="3" height="5" fill="#00ff00"/>
<rect x="992" y="531" width="1" height="13" fill="#ff0000"/>
<rect x="991" y="531" width="3" height="6" fill="#ff0000"/>
<rect x="996" y="501" width="1" height="33" fill="#ff0000"/>
<rect x="995" y="520" width="3" height="12" fill="#ff0000"/>
<rect x="1000" y="513" width="1" height="9" fill="#ff0000"/>
<rect x="999" y="515" width="3" height="7" fill="#ff0000"/>
<rect x="1004" y="521" width="1" height="10" fill="#00ff00"/>
<rect x="1003" y="523" width="3" height="6" fill="#00ff00"/>
<rect x="1008" y="517" width="1" height="15" fill="#ff0000"/>
<rect x="1007" y="520" width="3" height="9" fill="#ff0000"/>
<rect x="1012" y="520" width="1" height="16" fill="#00ff00"/>
<rect x="1011" y="520" width="3" height="9" fill="#00ff00"/>
<rect x="1016" y="519" width="1" height="8" fill="#ff0000"/>
<rect x="1015" y="522" width="3" height="5" fill="#ff0000"/>
<rect x="1020" y="493" width="1" height="33" fill="#ff0000"/>
<rect x="1019" y="493" width="3" height="32" fill="#ff0000"/>
<rect x="1024" y="488" width="1" height="11" fill="#00ff00"/>
<rect x="1023" y="493" width="3" height="6" fill="#00ff00"/>
<rect x="1028" y="475" width="1" height="28" fill="#ff0000"/>
<rect x="1027" y="476" width="3" height="26" fill="#ff0000"/>
<rect x="1032" y="466" width="1" height="34" fill="#00ff00"/>
<rect x="1031" y="476" width="3" height="18" fill="#00ff00"/>
<rect x="1036" y="488" width="1" height="19" fill="#00ff00"/>
<rect x="1035" y="492" width="3" height="8" fill="#00ff00"/>
<rect x="1040" y="497" width="1" height="22" fill="#00ff00"/>
<rect x="1039" y="499" width="3" height="16" fill="#00ff00"/>
<rect x="1044" y="498" width="1" height="26" fill="#ff0000"/>
<rect x="1043" y="505" width="3" height="10" fill="#ff0000"/>
<rect x="1048" y="503" width="1" height="9" fill="#00ff00"/>
<rect x="1047" y="504" width="3" height="5" fill="#00ff00"/>
<rect x="1052" y="495" width="1" height="17" fill="#ff0000"/>
<rect x="1051" y="505" width="3" height="4" fill="#ff0000"/>
<rect x="1056" y="503" width="1" height="9" fill="#00ff00"/>
<rect x="1055" y="504" width="3" height="5" fill="#00ff00"/>
<rect x="1060" y="500" width="1" height="8" fill="#ff0000"/>
<rect x="1059" y="500" width="3" height="6" fill="#ff0000"/>
<rect x="1064" y="499" width="1" height="19" fill="#00ff00"/>
<rect x="1063" y="500" width="3" height="5" fill="#00ff00"/>
<rect x="1068" y="493" width="1" height="13" fill="#ff0000"/>
<rect x="1067" y="499" width="3" height="7" fill="#ff0000"/>
<rect x="1072" y="499" width="1" height="4" fill="#00ff00"/>
<rect x="1071" y="499" width="3" height="4" fill="#00ff00"/>
<rect x="1076" y="496" width="1" height="10" fill="#00ff00"/>
<rect x="1075" y="497" width="3" height="6" fill="#00ff00"/>
<rect x="1080" y="496" width="1" height="10" fill="#ff0000"/>
<rect x="1079" y="498" width="3" height="8" fill="#ff0000"/>
<rect x="1084" y="488" width="1" height="13" fill="#ff0000"/>
<rect x="1083" y="490" width="3" height="10" fill="#ff0000"/>
<rect x="1088" y="473" width="1" height="19" fill="#ff0000"/>
<rect x="1087" y="474" width="3" height="18" fill="#ff0000"/>
<rect x="1092" y="472" width="1" height="12" fill="#00ff00"/>
<rect x="1091" y="474" width="3" height="7" fill="#00ff00"/>
<rect x="1096" y="477" width="1" height="5" fill="#00ff00"/>
<rect x="1095" y="479" width="3" height="2" fill="#00ff00"/>
<rect x="1100" y="452" width="1" height="30" fill="#ff0000"/>
<rect x="1099" y="458" width="3" height="23" fill="#ff0000"/>
<rect x="1104" y="452" width="1" height="12" fill="#ff0000"/>
<rect x="1103" y="458" width="3" height="2" fill="#ff0000"/>
<rect x="1108" y="456" width="1" height="16" fill="#00ff00"/>
<rect x="1107" y="458" width="3" height="11" fill="#00ff00"/>
<rect x="1112" y="450" width="1" height="20" fill="#ff0000"/>
<rect x="1111" y="458" width="3" height="8" fill="#ff0000"/>
<rect x="1116" y="456" width="1" height="7" fill="#00ff00"/>
<rect x="1115" y="458" width="3" height="4" fill="#00ff00"/>
<rect x="1120" y="457" width="1" height="4" fill="#00ff00"/>
<rect x="1119" y="457" width="3" height="4" fill="#00ff00"/>
<rect x="1124" y="452" width="1" height="21" fill="#00ff00"/>
<rect x="1123" y="459" width="3" height="13" fill="#00ff00"/>
<rect x="1128" y="465" width="1" height="17" fill="#00ff00"/>
<rect x="1127" y="471" width="3" height="11" fill="#00ff00"/>
<rect x="1132" y="472" width="1" height="10" fill="#ff0000"/>
<rect x="1131" y="476" width="3" height="6" fill="#ff0000"/>
<rect x="1136" y="466" width="1" height="14" fill="#ff0000"/>
<rect x="1135" y="467" width="3" height="11" fill="#ff0000"/>
<rect x="1140" y="461" width="1" height="15" fill="#00ff00"/>
<rect x="1139" y="467" width="3" height="3" fill="#00ff00"/>
<rect x="1144" y="468" width="1" height="2" fill="#ff0000"/>
<rect x="1143" y="468" width="3" height="2" fill="#ff0000"/>
<rect x="1148" y="464" width="1" height="13" fill="#00ff00"/>
<rect x="1147" y="468" width="3" height="6" fill="#00ff00"/>
<rect x="1152" y="468" width="1" height="12" fill="#00ff00"/>
<rect x="1151" y="473" width="3" height="6" fill="#00ff00"/>
<rect x="1156" y="475" width="1" height="17" fill="#00ff00"/>
<rect x="1155" y="476" width="3" height="15" fill="#00ff00"/>
<rect x="1160" y="478" width="1" height="14" fill="#00ff00"/>
<rect x="1159" y="489" width="3" height="2" fill="#00ff00"/>
<rect x="1164" y="485" width="1" height="9" fill="#00ff00"/>
<rect x="1163" y="489" width="3" height="3" fill="#00ff00"/>
<rect x="1168" y="488" width="1" height="4" fill="#ff0000"/>
<rect x="1167" y="489" width="3" height="2" fill="#ff0000"/>
<rect x="1172" y="484" width="1" height="22" fill="#00ff00"/>
<rect x="1171" y="488" width="3" height="13" fill="#00ff00"/>
<rect x="1176" y="499" width="1" height="17" fill="#00ff00"/>
<rect x="1175" y="499" width="3" height="10" fill="#00ff00"/>
<rect x="1180" y="504" width="1" height="12" fill="#00ff00"/>
<rect x="1179" y="507" width="3" height="8" fill="#00ff00"/>
<rect x="1184" y="511" width="1" height="10" fill="#ff0000"/>
<rect x="1183" y="512" width="3" height="2" fill="#ff0000"/>
<rect x="1188" y="508" width="1" height="10" fill="#ff0000"/>
<rect x="1187" y="512" width="3" height="2" fill="#ff0000"/>
<rect x="1192" y="511" width="1" height="5" fill="#00ff00"/>
<rect x="1191" y="512" width="3" height="3" fill="#00ff00"/>
<rect x="1196" y="512" width="1" height="13" fill="#00ff00"/>
<rect x="1195" y="513" width="3" height="11" fill="#00ff00"/>
<rect x="1200" y="515" width="1" height="12" fill="#ff0000"/>
<rect x="1199" y="520" width="3" height="4" fill="#ff0000"/>
<rect x="1204" y="515" width="1" height="11" fill="#00ff00"/>
<rect x="1203" y="520" width="3" height="5" fill="#00ff00"/>
<rect x="1208" y="522" width="1" height="11" fill="#00ff00"/>
<rect x="1207" y="523" width="3" height="7" fill="#00ff00"/>
<rect x="1212" y="525" width="1" height="8" fill="#ff0000"/>
<rect x="1211" y="526" width="3" height="4" fill="#ff0000"/>
<rect x="1216" y="523" width="1" height="6" fill="#ff0000"/>
<rect x="1215" y="525" width="3" height="3" fill="#ff0000"/>
<rect x="1220" y="517" width="1" height="11" fill="#00ff00"/>
<rect x="1219" y="524" width="3" height="2" fill="#00ff00"/>
<rect x="1224" y="512" width="1" height="17" fill="#ff0000"/>
<rect x="1223" y="515" width="3" height="10" fill="#ff0000"/>
<rect x="1228" y="511" width="1" height="10" fill="#00ff00"/>
<rect x="1227" y="515" width="3" height="3" fill="#00ff00"/>
<rect x="1232" y="513" width="1" height="18" fill="#00ff00"/>
<rect x="1231" y="516" width="3" height="13" fill="#00ff00"/>
<rect x="1236" y="527" width="1" height="35" fill="#00ff00"/>
<rect x="1235" y="528" width="3" height="34" fill="#00ff00"/>
<rect x="1240" y="555" width="1" height="8" fill="#ff0000"/>
<rect x="1239" y="558" width="3" height="4" fill="#ff0000"/>
<rect x="1244" y="552" width="1" height="18" fill="#00ff00"/>
<rect x="1243" y="561" width="3" height="6" fill="#00ff00"/>
<rect x="1248" y="550" width="1" height="17" fill="#ff0000"/>
<rect x="1247" y="554" width="3" height="13" fill="#ff0000"/>
<rect x="1252" y="532" width="1" height="24" fill="#ff0000"/>
<rect x="1251" y="533" width="3" height="22" fill="#ff0000"/>
<rect x="1256" y="531" width="1" height="12" fill="#00ff00"/>
<rect x="1255" y="534" width="3" height="5" fill="#00ff00"/>
<rect x="1260" y="537" width="1" height="16" fill="#00ff00"/>
<rect x="1259" y="537" width="3" height="10" fill="#00ff00"/>
<rect x="1264" y="544" width="1" height="4" fill="#00ff00"/>
<rect x="1263" y="545" width="3" height="2" fill="#00ff00"/>
<rect x="1268" y="541" width="1" height="7" fill="#ff0000"/>
<rect x="1267" y="542" width="3" height="5" fill="#ff0000"/>
</g>
<svg x="4" y="29" width="1592" height="555" viewBox="4 29 1592 555" overflow="hidden">
<polyline points="4,125.0 8,123.7 12,122.5 16,120.7 20,119.5 24,118.2 28,117.3 32,116.8 36,115.5 40,113.5 44,112.2 48,110.6 52,109.4 56,106.9 60,105.4 64,103.9 68,102.7 72,102.1 76,102.4 80,102.1 84,102.4 88,103.3 92,103.9 96,105.1 100,105.7 104,106.6 108,107.2 112,107.8 116,108.6 120,109.0 124,109.3 128,109.9 132,110.7 136,112.0 140,113.2 144,114.6 148,115.8 152,116.4 156,117.3 160,118.6 164,119.9 168,121.4 172,123.0 176,125.7 180,127.6 184,129.7 188,131.6 192,134.1 196,136.2 200,138.7 204,141.2 208,142.6 212,143.9 216,145.3 220,146.7 224,148.1 228,149.9 232,151.6 236,153.6 240,155.7 244,158.0 248,159.7 252,161.5 256,162.6 260,163.9 264,165.1 268,166.2 272,167.8 276,169.4 280,171.6 284,173.7 288,175.9 292,177.8 296,180.6 300,183.2 304,185.3 308,187.4 312,188.7 316,190.2 320,191.7 324,192.8 328,194.2 332,195.6 336,197.0 340,199.2 344,200.8 348,202.6 352,204.1 356,205.5 360,207.2 364,208.7 368,211.3 372,213.7 376,217.3 380,220.6 384,223.9 388,227.7 392,231.3 396,234.8 400,237.8 404,241.1 408,244.3 412,246.9 416,249.1 420,251.7 424,254.6 428,257.5 432,260.8 436,264.3 440,268.2 444,272.1 448,275.8 452,279.4 456,282.1 460,284.8 464,286.9 468,288.4 472,290.3 476,292.3 480,294.4 484,296.2 488,298.3 492,301.3 496,303.5 500,305.9 504,308.6 508,310.6 512,312.9 516,315.2 520,318.6 524,321.8 528,323.7 532,326.1 536,328.8 540,331.3 544,334.4 548,337.4 552,340.2 556,342.8 560,345.3 564,347.3 568,349.5 572,351.9 576,354.1 580,355.8 584,357.7 588,360.2 592,363.3 596,366.2 600,368.9 604,372.0 608,375.1 612,378.0 616,381.7 620,385.3 624,387.3 628,390.1 632,392.5 636,395.4 640,397.0 644,398.9 648,402.6 652,406.6 656,409.9 660,412.9 664,415.8 668,419.0 672,420.9 676,422.5 680,423.8 684,426.0 688,428.2 692,430.3 696,432.9 700,436.1 704,439.9 708,443.9 712,447.8 716,451.8 720,455.5 724,459.0 728,461.6 732,463.1 736,464.2 740,465.3 744,467.3 748,469.0 752,471.4 756,473.3 760,475.3 764,476.9 768,477.7 772,478.0 776,478.5 780,479.9 784,480.7 788,481.1 792,482.4 796,484.3 800,486.0 804,487.4 808,488.8 812,491.4 816,494.4 820,496.7 824,498.5 828,500.2 832,501.2 836,501.9 840,503.2 844,504.4 848,505.4 852,506.7 856,507.8 860,508.7 864,510.0 868,511.3 872,512.2 876,512.7 880,513.2 884,513.9 888,515.4 892,516.4 896,517.6 900,519.2 904,520.6 908,521.8 912,523.2 916,524.1 920,524.5 924,525.3 928,526.3 932,526.5 936,526.9 940,527.4 944,528.6 948,529.3 952,530.3 956,531.9 960,532.7 964,533.1 968,533.1 972,533.7 976,534.1 980,534.6 984,534.9 988,535.1 992,535.2 996,535.5 1000,535.7 1004,536.2 1008,536.0 1012,536.6 1016,536.5 1020,534.8 1024,533.5 1028,532.0 1032,530.6 1036,529.6 1040,529.4 1044,528.5 1048,527.6 1052,526.3 1056,524.6 1060,522.8 1064,521.0 1068,519.0 1072,517.1 1076,514.9 1080,513.0 1084,511.3 1088,509.5 1092,507.7 1096,506.0 1100,503.9 1104,501.4 1108,499.2 1112,496.7 1116,494.8 1120,492.9 1124,491.0 1128,489.7 1132,488.0 1136,486.2 1140,485.3 1144,484.3 1148,484.3 1152,483.8 1156,483.5 1160,482.7 1164,482.2 1168,481.6 1172,481.4 1176,481.4 1180,481.8 1184,482.1 1188,482.5 1192,482.9 1196,483.6 1200,484.4 1204,485.5 1208,487.3 1212,488.9 1216,490.4 1220,492.6 1224,494.5 1228,496.2 1232,498.5 1236,501.8 1240,505.1 1244,508.3 1248,510.7 1252,512.6 1256,515.0 1260,517.6 1264,520.2 1268,522.4" fill="none" stroke="#0000cd" stroke-width="1" shape-rendering="crispEdges"/>
<polyline points="4,113.1 8,112.9 12,113.1 16,111.8 20,111.6 24,111.0 28,110.8 32,111.3 36,110.3 40,107.7 44,105.5 48,103.6 52,102.4 56,98.2 60,95.5 64,93.1 68,91.5 72,91.4 76,92.4 80,92.7 84,92.4 88,94.0 92,96.4 96,100.5 100,103.7 104,108.1 108,111.6 112,116.8 116,120.4 120,124.0 124,127.2 128,129.6 132,131.0 136,133.0 140,134.7 144,135.3 148,136.1 152,135.5 156,135.1 160,133.6 164,132.7 168,132.6 172,133.2 176,134.0 180,134.8 184,135.5 188,136.1 192,138.8 196,141.7 200,144.2 204,147.0 208,150.1 212,153.4 216,157.6 220,161.0 224,165.4 228,169.1 232,172.4 236,176.1 240,179.7 244,183.9 248,184.6 252,185.3 256,184.2 260,183.2 264,183.5 268,184.0 272,183.8 276,183.7 280,184.0 284,183.9 288,184.5 292,185.0 296,187.6 300,188.7 304,190.3 308,191.6 312,194.7 316,198.2 320,201.3 324,203.8 328,206.5 332,209.7 336,212.0 340,215.7 344,218.9 348,222.1 352,222.7 356,224.0 360,226.8 364,229.6 368,233.0 372,235.7 376,239.0 380,242.9 384,247.2 388,252.6 392,257.1 396,259.9 400,263.1 404,266.4 408,270.5 412,273.7 416,277.3 420,280.8 424,283.1 428,285.4 432,288.0 436,291.7 440,296.1 444,299.1 448,302.0 452,305.3 456,307.0 460,309.5 464,310.2 468,311.1 472,310.9 476,311.0 480,312.1 484,312.4 488,313.3 492,315.0 496,314.7 500,315.2 504,317.5 508,319.5 512,323.0 516,325.0 520,331.1 524,337.8 528,342.1 532,346.2 536,351.1 540,356.1 544,360.5 548,362.7 552,366.6 556,370.9 560,374.7 564,377.8 568,380.6 572,384.0 576,383.2 580,382.4 584,383.1 588,384.1 592,384.8 596,385.9 600,385.9 604,386.7 608,388.1 612,390.5 616,392.7 620,396.5 624,398.4 628,401.3 632,405.1 636,409.8 640,415.2 644,420.7 648,426.3 652,432.8 656,439.0 660,443.7 664,447.8 668,450.4 672,450.7 676,450.6 680,453.0 684,454.8 688,457.2 692,458.7 696,460.2 700,462.2 704,463.1 708,464.0 712,466.0 716,469.1 720,470.8 724,472.4 728,475.4 732,477.5 736,479.2 740,480.5 744,482.1 748,484.3 752,487.5 756,489.4 760,491.0 764,491.5 768,490.4 772,489.0 776,488.4 780,488.5 784,488.7 788,489.1 792,489.7 796,491.3 800,493.1 804,494.3 808,494.6 812,497.7 816,501.3 820,504.5 824,507.6 828,511.6 832,514.6 836,516.3 840,519.0 844,522.3 848,524.6 852,525.5 856,526.0 860,526.2 864,527.4 868,526.9 872,525.7 876,523.7 880,522.5 884,520.9 888,520.7 892,519.9 896,519.3 900,520.3 904,521.3 908,521.6 912,522.7 916,524.2 920,524.3 924,524.3 928,524.6 932,527.2 936,530.8 940,533.6 944,536.0 948,539.4 952,541.8 956,543.6 960,544.8 964,546.3 968,545.8 972,546.1 976,546.7 980,546.1 984,546.0 988,545.3 992,543.3 996,541.0 1000,537.7 1004,535.6 1008,532.9 1012,529.9 1016,527.5 1020,524.0 1024,522.1 1028,517.9 1032,515.2 1036,513.5 1040,512.3 1044,510.1 1048,508.5 1052,507.4 1056,506.9 1060,504.9 1064,503.7 1068,501.7 1072,500.3 1076,500.9 1080,500.9 1084,502.0 1088,500.6 1092,499.2 1096,496.7 1100,493.4 1104,489.8 1108,487.2 1112,483.6 1116,480.8 1120,477.7 1124,475.7 1128,474.2 1132,472.3 1136,470.1 1140,468.5 1144,468.1 1148,467.7 1152,467.5 1156,469.8 1160,472.1 1164,473.8 1168,476.0 1172,478.8 1176,482.2 1180,485.2 1184,487.4 1188,490.0 1192,493.4 1196,497.2 1200,500.9 1204,504.6 1208,508.2 1212,510.8 1216,513.3 1220,515.7 1224,517.6 1228,518.8 1232,520.3 1236,523.7 1240,527.0 1244,530.9 1248,533.7 1252,534.4 1256,535.7 1260,537.2 1264,538.5 1268,539.6" fill="none" stroke="#ff0000" stroke-width="1" shape-rendering="crispEdges"/>
<polyline points="4,115.2 8,113.9 12,111.8 16,110.1 20,106.0 24,102.9 28,102.9 32,105.2 36,106.1 40,103.9 44,101.0 48,96.2 52,90.7 56,82.5 60,81.1 64,79.1 68,78.0 72,79.5 76,89.6 80,95.0 84,101.1 88,112.2 92,120.0 96,126.6 100,131.9 104,140.0 108,140.1 112,139.6 116,136.8 120,136.0 124,131.7 128,130.0 132,129.3 136,130.3 140,131.0 144,134.7 148,138.2 152,139.2 156,138.0 160,136.8 164,133.0 168,129.8 172,130.5 176,132.9 180,135.1 184,137.6 188,139.2 192,145.8 196,152.5 200,161.1 204,170.4 208,178.3 212,179.0 216,181.1 220,180.0 224,181.2 228,183.7 232,185.9 236,187.0 240,190.0 244,191.1 248,189.1 252,188.8 256,184.0 260,180.1 264,177.0 268,177.4 272,176.9 276,178.7 280,183.4 284,184.9 288,187.4 292,190.4 296,200.6 300,204.5 304,207.0 308,208.6 312,211.0 316,209.9 320,212.2 324,215.2 328,218.8 332,220.8 336,222.0 340,225.1 344,229.7 348,234.1 352,237.0 356,238.1 360,238.1 364,238.5 368,241.3 372,246.3 376,254.2 380,260.4 384,268.2 388,275.7 392,282.0 396,283.9 400,286.1 404,287.8 408,287.0 412,284.6 416,286.6 420,288.1 424,288.0 428,288.1 432,294.2 436,300.9 440,311.0 444,320.6 448,328.7 452,332.2 456,329.0 460,325.2 464,318.1 468,309.9 472,302.5 476,299.2 480,295.3 484,294.2 488,300.3 492,312.2 496,321.5 500,329.4 504,343.0 508,349.6 512,351.5 516,353.9 520,362.6 524,366.7 528,365.7 532,364.2 536,368.4 540,364.2 544,363.8 548,370.0 552,378.6 556,384.8 560,395.1 564,398.2 568,401.7 572,402.5 576,397.0 580,388.4 584,380.4 588,374.0 592,370.6 596,371.8 600,373.6 604,380.2 608,389.8 612,400.7 616,414.1 620,427.7 624,434.3 628,439.5 632,438.1 636,436.3 640,432.9 644,436.5 648,440.6 652,449.3 656,455.6 660,460.0 664,465.5 668,468.2 672,464.0 676,460.1 680,460.3 684,459.4 688,457.1 692,458.9 696,459.9 700,462.1 704,463.8 708,468.2 712,475.8 716,484.8 720,489.8 724,494.2 728,496.0 732,492.3 736,488.7 740,486.5 744,484.3 748,483.7 752,487.9 756,490.6 760,493.0 764,494.5 768,492.9 772,488.9 776,486.9 780,487.4 784,488.3 788,488.7 792,490.9 796,494.6 800,497.1 804,499.3 808,503.3 812,512.8 816,520.9 820,526.5 824,530.2 828,536.5 832,534.4 836,529.5 840,528.8 844,529.8 848,527.4 852,525.2 856,524.4 860,519.4 864,517.7 868,519.2 872,521.3 876,520.0 880,519.8 884,518.2 888,517.1 892,513.5 896,516.4 900,523.7 904,528.6 908,527.6 912,532.2 916,533.2 920,528.8 924,527.5 928,529.9 932,532.4 936,538.1 940,544.2 944,550.0 948,554.8 952,557.4 956,559.5 960,560.1 964,556.6 968,550.2 972,545.3 976,537.6 980,531.0 984,528.9 988,530.8 992,530.4 996,528.2 1000,526.5 1004,525.8 1008,522.8 1012,522.0 1016,522.5 1020,518.2 1024,512.2 1028,503.3 1032,496.3 1036,491.8 1040,496.0 1044,497.4 1048,504.0 1052,506.4 1056,508.0 1060,505.2 1064,504.9 1068,503.1 1072,502.5 1076,501.5 1080,501.0 1084,498.3 1088,493.2 1092,488.8 1096,484.2 1100,476.3 1104,469.8 1108,468.7 1112,464.4 1116,460.6 1120,460.9 1124,463.6 1128,466.1 1132,469.7 1136,470.9 1140,472.7 1144,472.0 1148,470.6 1152,470.9 1156,475.6 1160,479.9 1164,484.6 1168,487.7 1172,492.1 1176,495.6 1180,500.2 1184,504.3 1188,508.9 1192,511.8 1196,514.8 1200,516.1 1204,518.6 1208,522.0 1212,524.4 1216,524.9 1220,525.9 1224,524.1 1228,521.7 1232,522.2 1236,529.4 1240,536.0 1244,546.0 1248,553.3 1252,554.3 1256,549.7 1260,547.2 1264,543.4 1268,541.0" fill="none" stroke="#ffa500" stroke-width="1" shape-rendering="crispEdges"/>
</svg>
<rect x="1598" y="176" width="38" height="11" fill="#ff0000"/>
<text x="1602" y="185.3" font-size="9.5" fill="#fff" textLength="33" lengthAdjust="spacingAndGlyphs" stroke="#fff" stroke-width="0.15">7.00029</text>
<rect x="1598" y="248" width="38" height="11" fill="#ff0000"/>
<text x="1602" y="257.3" font-size="9.5" fill="#fff" textLength="33" lengthAdjust="spacingAndGlyphs" stroke="#fff" stroke-width="0.15">6.88897</text>
<rect x="1598" y="330" width="38" height="11" fill="#ff0000"/>
<text x="1602" y="339.3" font-size="9.5" fill="#fff" textLength="33" lengthAdjust="spacingAndGlyphs" stroke="#fff" stroke-width="0.15">6.76157</text>
<rect x="1598" y="417" width="38" height="11" fill="#ff0000"/>
<text x="1602" y="426.3" font-size="9.5" fill="#fff" textLength="33" lengthAdjust="spacingAndGlyphs" stroke="#fff" stroke-width="0.15">6.62709</text>
<rect x="1598" y="486" width="38" height="11" fill="#00ff00"/>
<text x="1602" y="495.3" font-size="9.5" fill="#fff" textLength="33" lengthAdjust="spacingAndGlyphs" stroke="#fff" stroke-width="0.15">6.52138</text>
<rect x="1598" y="564" width="38" height="11" fill="#0000ff"/>
<text x="1602" y="573.3" font-size="9.5" fill="#fff" textLength="33" lengthAdjust="spacingAndGlyphs" stroke="#fff" stroke-width="0.15">6.40104</text>
<rect x="1598" y="537" width="38" height="11" fill="#000"/>
<text x="1602" y="547" font-size="9.5" fill="#fff" textLength="33" lengthAdjust="spacingAndGlyphs" stroke="#fff" stroke-width="0.15">6.44327</text>
<path d="M7 35 L14 35 L10.5 39 Z" fill="#000"/>
<text x="19" y="40" font-size="9.5" fill="#000" textLength="65" lengthAdjust="spacingAndGlyphs" stroke="#000" stroke-width="0.15">USDCNH,Daily</text>
<text x="90.5" y="40" font-size="9.5" fill="#000" textLength="141" lengthAdjust="spacingAndGlyphs" stroke="#000" stroke-width="0.15">6.43916 6.44553 6.43732 6.44327</text>
<rect x="4" y="617" width="1592" height="1" fill="#fff"/>
<line x1="4" y1="617.5" x2="1596" y2="617.5" stroke="#c0c0c0" stroke-dasharray="3,3" shape-rendering="crispEdges"/>
<line x1="4" y1="657.5" x2="1596" y2="657.5" stroke="#c0c0c0" stroke-dasharray="3,3" shape-rendering="crispEdges"/>
<polyline points="4,636.0 8,632.7 12,629.8 16,626.5 20,627.1 24,630.5 28,635.3 32,637.9 36,630.6 40,625.0 44,625.9 48,625.5 52,626.4 56,616.5 60,627.9 64,627.1 68,629.4 72,635.9 76,642.0 80,640.3 84,640.9 88,650.9 92,649.8 96,652.2 100,647.1 104,651.7 108,646.6 112,644.3 116,642.8 120,642.5 124,641.6 128,642.7 132,642.7 136,644.9 140,643.8 144,649.7 148,650.2 152,642.4 156,638.6 160,637.6 164,637.6 168,640.1 172,644.5 176,645.5 180,643.5 184,644.3 188,643.9 192,658.8 196,659.5 200,661.7 204,663.0 208,656.6 212,654.7 216,657.9 220,651.1 224,656.8 228,656.0 232,652.9 236,654.3 240,654.5 244,657.3 248,644.7 252,646.6 256,636.3 260,638.9 264,643.8 268,643.8 272,643.8 276,639.4 280,648.4 284,645.5 288,647.5 292,648.5 296,658.0 300,651.4 304,645.0 308,645.2 312,647.6 316,651.5 320,653.2 324,648.0 328,649.3 332,648.6 336,651.3 340,656.2 344,655.0 348,655.9 352,649.9 356,648.8 360,652.5 364,652.7 368,657.7 372,658.4 376,662.0 380,662.3 384,664.5 388,667.4 392,664.1 396,657.3 400,658.2 404,659.8 408,660.2 412,650.7 416,655.4 420,655.6 424,653.4 428,654.2 432,660.1 436,664.2 440,667.8 444,663.6 448,660.0 452,656.8 456,646.4 460,651.2 464,641.1 468,636.7 472,636.5 476,637.7 480,642.2 484,638.8 488,647.2 492,654.3 496,650.2 500,651.3 504,656.0 508,651.6 512,652.6 516,649.4 520,657.3 524,656.5 528,643.1 532,643.7 536,648.6 540,646.6 544,650.3 548,649.2 552,652.4 556,654.2 560,657.0 564,649.6 568,649.1 572,649.4 576,641.0 580,640.6 584,635.3 588,637.7 592,642.5 596,642.6 600,643.2 604,645.7 608,651.8 612,656.7 616,659.0 620,659.6 624,648.2 628,651.6 632,647.6 636,650.1 640,648.3 644,650.2 648,654.1 652,656.6 656,655.8 660,649.9 664,652.9 668,653.8 672,644.8 676,644.6 680,646.6 684,648.6 688,647.3 692,646.5 696,644.2 700,648.8 704,650.1 708,653.2 712,657.0 716,657.4 720,653.9 724,654.3 728,652.8 732,645.2 736,646.2 740,646.4 744,647.2 748,649.5 752,653.7 756,650.4 760,649.5 764,647.4 768,641.0 772,639.9 776,643.2 780,648.5 784,647.6 788,640.0 792,643.5 796,649.7 800,651.6 804,649.7 808,647.9 812,659.7 816,661.3 820,656.2 824,649.2 828,652.4 832,648.5 836,644.4 840,649.0 844,647.1 848,643.7 852,640.7 856,640.1 860,636.2 864,642.3 868,646.1 872,644.2 876,635.6 880,634.8 884,637.4 888,642.9 892,635.5 896,641.4 900,648.1 904,645.2 908,638.4 912,642.3 916,641.1 920,638.2 924,641.5 928,642.1 932,646.4 936,650.4 940,647.8 944,650.0 948,648.5 952,648.9 956,652.5 960,645.4 964,639.0 968,632.4 972,636.0 976,634.9 980,631.9 984,635.6 988,637.2 992,635.6 996,631.0 1000,628.9 1004,635.2 1008,632.3 1012,635.7 1016,633.4 1020,623.5 1024,625.6 1028,619.6 1032,627.5 1036,630.2 1040,636.0 1044,632.8 1048,634.2 1052,633.0 1056,634.2 1060,631.4 1064,633.0 1068,631.4 1072,632.6 1076,632.9 1080,630.7 1084,627.7 1088,621.5 1092,625.2 1096,625.2 1100,618.1 1104,618.0 1108,624.5 1112,621.1 1116,622.9 1120,622.5 1124,629.6 1128,634.8 1132,632.6 1136,628.7 1140,629.8 1144,629.4 1148,632.9 1152,635.5 1156,642.3 1160,642.3 1164,642.9 1168,641.1 1172,647.0 1176,650.6 1180,653.1 1184,651.7 1188,651.7 1192,652.9 1196,656.6 1200,654.4 1204,656.3 1208,658.3 1212,655.3 1216,654.1 1220,654.4 1224,644.3 1228,645.5 1232,652.2 1236,663.7 1240,661.8 1244,663.8 1248,654.6 1252,642.5 1256,644.4 1260,647.5 1264,647.7 1268,644.8" fill="none" stroke="#1e90ff" stroke-width="1" shape-rendering="crispEdges"/>
<text x="8" y="599" font-size="9.5" fill="#000" textLength="68" lengthAdjust="spacingAndGlyphs" stroke="#000" stroke-width="0.15">RSI(14) 41.3220</text>
<text x="1600" y="597" font-size="9.5" fill="#000" stroke="#000" stroke-width="0.15">100</text>
<text x="1600" y="621" font-size="9.5" fill="#000" stroke="#000" stroke-width="0.15">70</text>
<text x="1600" y="661" font-size="9.5" fill="#000" stroke="#000" stroke-width="0.15">30</text>
<text x="1600" y="685" font-size="9.5" fill="#000" stroke="#000" stroke-width="0.15">0</text>
<rect x="1597" y="617" width="3" height="1" fill="#000"/>
<rect x="1597" y="657" width="3" height="1" fill="#000"/>
<g shape-rendering="crispEdges">
<rect x="4" y="719" width="1" height="12" fill="#c0c0c0"/>
<rect x="8" y="719" width="1" height="12" fill="#c0c0c0"/>
<rect x="12" y="718" width="1" height="13" fill="#c0c0c0"/>
<rect x="16" y="716" width="1" height="15" fill="#c0c0c0"/>
<rect x="20" y="714" width="1" height="17" fill="#c0c0c0"/>
<rect x="24" y="714" width="1" height="17" fill="#c0c0c0"/>
<rect x="28" y="716" width="1" height="15" fill="#c0c0c0"/>
<rect x="32" y="719" width="1" height="12" fill="#c0c0c0"/>
<rect x="36" y="718" width="1" height="13" fill="#c0c0c0"/>
<rect x="40" y="715" width="1" height="16" fill="#c0c0c0"/>
<rect x="44" y="713" width="1" height="18" fill="#c0c0c0"/>
<rect x="48" y="711" width="1" height="20" fill="#c0c0c0"/>
<rect x="52" y="711" width="1" height="20" fill="#c0c0c0"/>
<rect x="56" y="705" width="1" height="26" fill="#c0c0c0"/>
<rect x="60" y="705" width="1" height="26" fill="#c0c0c0"/>
<rect x="64" y="704" width="1" height="27" fill="#c0c0c0"/>
<rect x="68" y="705" width="1" height="26" fill="#c0c0c0"/>
<rect x="72" y="708" width="1" height="23" fill="#c0c0c0"/>
<rect x="76" y="714" width="1" height="17" fill="#c0c0c0"/>
<rect x="80" y="718" width="1" height="13" fill="#c0c0c0"/>
<rect x="84" y="721" width="1" height="10" fill="#c0c0c0"/>
<rect x="88" y="729" width="1" height="2" fill="#c0c0c0"/>
<rect x="92" y="730" width="1" height="6" fill="#c0c0c0"/>
<rect x="96" y="730" width="1" height="13" fill="#c0c0c0"/>
<rect x="100" y="730" width="1" height="15" fill="#c0c0c0"/>
<rect x="104" y="730" width="1" height="20" fill="#c0c0c0"/>
<rect x="108" y="730" width="1" height="22" fill="#c0c0c0"/>
<rect x="112" y="730" width="1" height="22" fill="#c0c0c0"/>
<rect x="116" y="730" width="1" height="21" fill="#c0c0c0"/>
<rect x="120" y="730" width="1" height="20" fill="#c0c0c0"/>
<rect x="124" y="730" width="1" height="19" fill="#c0c0c0"/>
<rect x="128" y="730" width="1" height="18" fill="#c0c0c0"/>
<rect x="132" y="730" width="1" height="17" fill="#c0c0c0"/>
<rect x="136" y="730" width="1" height="17" fill="#c0c0c0"/>
<rect x="140" y="730" width="1" height="17" fill="#c0c0c0"/>
<rect x="144" y="730" width="1" height="19" fill="#c0c0c0"/>
<rect x="148" y="730" width="1" height="20" fill="#c0c0c0"/>
<rect x="152" y="730" width="1" height="19" fill="#c0c0c0"/>
<rect x="156" y="730" width="1" height="17" fill="#c0c0c0"/>
<rect x="160" y="730" width="1" height="14" fill="#c0c0c0"/>
<rect x="164" y="730" width="1" height="12" fill="#c0c0c0"/>
<rect x="168" y="730" width="1" height="11" fill="#c0c0c0"/>
<rect x="172" y="730" width="1" height="12" fill="#c0c0c0"/>
<rect x="176" y="730" width="1" height="13" fill="#c0c0c0"/>
<rect x="180" y="730" width="1" height="12" fill="#c0c0c0"/>
<rect x="184" y="730" width="1" height="13" fill="#c0c0c0"/>
<rect x="188" y="730" width="1" height="12" fill="#c0c0c0"/>
<rect x="192" y="730" width="1" height="18" fill="#c0c0c0"/>
<rect x="196" y="730" width="1" height="23" fill="#c0c0c0"/>
<rect x="200" y="730" width="1" height="28" fill="#c0c0c0"/>
<rect x="204" y="730" width="1" height="32" fill="#c0c0c0"/>
<rect x="208" y="730" width="1" height="33" fill="#c0c0c0"/>
<rect x="212" y="730" width="1" height="34" fill="#c0c0c0"/>
<rect x="216" y="730" width="1" height="36" fill="#c0c0c0"/>
<rect x="220" y="730" width="1" height="35" fill="#c0c0c0"/>
<rect x="224" y="730" width="1" height="37" fill="#c0c0c0"/>
<rect x="228" y="730" width="1" height="38" fill="#c0c0c0"/>
<rect x="232" y="730" width="1" height="37" fill="#c0c0c0"/>
<rect x="236" y="730" width="1" height="37" fill="#c0c0c0"/>
<rect x="240" y="730" width="1" height="37" fill="#c0c0c0"/>
<rect x="244" y="730" width="1" height="37" fill="#c0c0c0"/>
<rect x="248" y="730" width="1" height="34" fill="#c0c0c0"/>
<rect x="252" y="730" width="1" height="32" fill="#c0c0c0"/>
<rect x="256" y="730" width="1" height="27" fill="#c0c0c0"/>
<rect x="260" y="730" width="1" height="23" fill="#c0c0c0"/>
<rect x="264" y="730" width="1" height="22" fill="#c0c0c0"/>
<rect x="268" y="730" width="1" height="21" fill="#c0c0c0"/>
<rect x="272" y="730" width="1" height="20" fill="#c0c0c0"/>
<rect x="276" y="730" width="1" height="18" fill="#c0c0c0"/>
<rect x="280" y="730" width="1" height="19" fill="#c0c0c0"/>
<rect x="284" y="730" width="1" height="19" fill="#c0c0c0"/>
<rect x="288" y="730" width="1" height="20" fill="#c0c0c0"/>
<rect x="292" y="730" width="1" height="21" fill="#c0c0c0"/>
<rect x="296" y="730" width="1" height="27" fill="#c0c0c0"/>
<rect x="300" y="730" width="1" height="29" fill="#c0c0c0"/>
<rect x="304" y="730" width="1" height="28" fill="#c0c0c0"/>
<rect x="308" y="730" width="1" height="27" fill="#c0c0c0"/>
<rect x="312" y="730" width="1" height="27" fill="#c0c0c0"/>
<rect x="316" y="730" width="1" height="29" fill="#c0c0c0"/>
<rect x="320" y="730" width="1" height="31" fill="#c0c0c0"/>
<rect x="324" y="730" width="1" height="31" fill="#c0c0c0"/>
<rect x="328" y="730" width="1" height="31" fill="#c0c0c0"/>
<rect x="332" y="730" width="1" height="31" fill="#c0c0c0"/>
<rect x="336" y="730" width="1" height="31" fill="#c0c0c0"/>
<rect x="340" y="730" width="1" height="34" fill="#c0c0c0"/>
<rect x="344" y="730" width="1" height="36" fill="#c0c0c0"/>
<rect x="348" y="730" width="1" height="37" fill="#c0c0c0"/>
<rect x="352" y="730" width="1" height="36" fill="#c0c0c0"/>
<rect x="356" y="730" width="1" height="34" fill="#c0c0c0"/>
<rect x="360" y="730" width="1" height="35" fill="#c0c0c0"/>
<rect x="364" y="730" width="1" height="35" fill="#c0c0c0"/>
<rect x="368" y="730" width="1" height="37" fill="#c0c0c0"/>
<rect x="372" y="730" width="1" height="38" fill="#c0c0c0"/>
<rect x="376" y="730" width="1" height="42" fill="#c0c0c0"/>
<rect x="380" y="730" width="1" height="44" fill="#c0c0c0"/>
<rect x="384" y="730" width="1" height="47" fill="#c0c0c0"/>
<rect x="388" y="730" width="1" height="51" fill="#c0c0c0"/>
<rect x="392" y="730" width="1" height="53" fill="#c0c0c0"/>
<rect x="396" y="730" width="1" height="52" fill="#c0c0c0"/>
<rect x="400" y="730" width="1" height="51" fill="#c0c0c0"/>
<rect x="404" y="730" width="1" height="51" fill="#c0c0c0"/>
<rect x="408" y="730" width="1" height="51" fill="#c0c0c0"/>
<rect x="412" y="730" width="1" height="48" fill="#c0c0c0"/>
<rect x="416" y="730" width="1" height="47" fill="#c0c0c0"/>
<rect x="420" y="730" width="1" height="46" fill="#c0c0c0"/>
<rect x="424" y="730" width="1" height="44" fill="#c0c0c0"/>
<rect x="428" y="730" width="1" height="43" fill="#c0c0c0"/>
<rect x="432" y="730" width="1" height="44" fill="#c0c0c0"/>
<rect x="436" y="730" width="1" height="48" fill="#c0c0c0"/>
<rect x="440" y="730" width="1" height="54" fill="#c0c0c0"/>
<rect x="444" y="730" width="1" height="56" fill="#c0c0c0"/>
<rect x="448" y="730" width="1" height="57" fill="#c0c0c0"/>
<rect x="452" y="730" width="1" height="56" fill="#c0c0c0"/>
<rect x="456" y="730" width="1" height="51" fill="#c0c0c0"/>
<rect x="460" y="730" width="1" height="50" fill="#c0c0c0"/>
<rect x="464" y="730" width="1" height="44" fill="#c0c0c0"/>
<rect x="468" y="730" width="1" height="37" fill="#c0c0c0"/>
<rect x="472" y="730" width="1" height="30" fill="#c0c0c0"/>
<rect x="476" y="730" width="1" height="26" fill="#c0c0c0"/>
<rect x="480" y="730" width="1" height="24" fill="#c0c0c0"/>
<rect x="484" y="730" width="1" height="21" fill="#c0c0c0"/>
<rect x="488" y="730" width="1" height="23" fill="#c0c0c0"/>
<rect x="492" y="730" width="1" height="29" fill="#c0c0c0"/>
<rect x="496" y="730" width="1" height="32" fill="#c0c0c0"/>
<rect x="500" y="730" width="1" height="35" fill="#c0c0c0"/>
<rect x="504" y="730" width="1" height="40" fill="#c0c0c0"/>
<rect x="508" y="730" width="1" height="42" fill="#c0c0c0"/>
<rect x="512" y="730" width="1" height="44" fill="#c0c0c0"/>
<rect x="516" y="730" width="1" height="44" fill="#c0c0c0"/>
<rect x="520" y="730" width="1" height="50" fill="#c0c0c0"/>
<rect x="524" y="730" width="1" height="53" fill="#c0c0c0"/>
<rect x="528" y="730" width="1" height="49" fill="#c0c0c0"/>
<rect x="532" y="730" width="1" height="45" fill="#c0c0c0"/>
<rect x="536" y="730" width="1" height="46" fill="#c0c0c0"/>
<rect x="540" y="730" width="1" height="45" fill="#c0c0c0"/>
<rect x="544" y="730" width="1" height="46" fill="#c0c0c0"/>
<rect x="548" y="730" width="1" height="47" fill="#c0c0c0"/>
<rect x="552" y="730" width="1" height="49" fill="#c0c0c0"/>
<rect x="556" y="730" width="1" height="52" fill="#c0c0c0"/>
<rect x="560" y="730" width="1" height="56" fill="#c0c0c0"/>
<rect x="564" y="730" width="1" height="55" fill="#c0c0c0"/>
<rect x="568" y="730" width="1" height="54" fill="#c0c0c0"/>
<rect x="572" y="730" width="1" height="52" fill="#c0c0c0"/>
<rect x="576" y="730" width="1" height="47" fill="#c0c0c0"/>
<rect x="580" y="730" width="1" height="41" fill="#c0c0c0"/>
<rect x="584" y="730" width="1" height="34" fill="#c0c0c0"/>
<rect x="588" y="730" width="1" height="29" fill="#c0c0c0"/>
<rect x="592" y="730" width="1" height="27" fill="#c0c0c0"/>
<rect x="596" y="730" width="1" height="26" fill="#c0c0c0"/>
<rect x="600" y="730" width="1" height="25" fill="#c0c0c0"/>
<rect x="604" y="730" width="1" height="25" fill="#c0c0c0"/>
<rect x="608" y="730" width="1" height="29" fill="#c0c0c0"/>
<rect x="612" y="730" width="1" height="36" fill="#c0c0c0"/>
<rect x="616" y="730" width="1" height="44" fill="#c0c0c0"/>
<rect x="620" y="730" width="1" height="50" fill="#c0c0c0"/>
<rect x="624" y="730" width="1" height="49" fill="#c0c0c0"/>
<rect x="628" y="730" width="1" height="50" fill="#c0c0c0"/>
<rect x="632" y="730" width="1" height="49" fill="#c0c0c0"/>
<rect x="636" y="730" width="1" height="49" fill="#c0c0c0"/>
<rect x="640" y="730" width="1" height="48" fill="#c0c0c0"/>
<rect x="644" y="730" width="1" height="48" fill="#c0c0c0"/>
<rect x="648" y="730" width="1" height="51" fill="#c0c0c0"/>
<rect x="652" y="730" width="1" height="55" fill="#c0c0c0"/>
<rect x="656" y="730" width="1" height="57" fill="#c0c0c0"/>
<rect x="660" y="730" width="1" height="55" fill="#c0c0c0"/>
<rect x="664" y="730" width="1" height="56" fill="#c0c0c0"/>
<rect x="668" y="730" width="1" height="56" fill="#c0c0c0"/>
<rect x="672" y="730" width="1" height="52" fill="#c0c0c0"/>
<rect x="676" y="730" width="1" height="48" fill="#c0c0c0"/>
<rect x="680" y="730" width="1" height="45" fill="#c0c0c0"/>
<rect x="684" y="730" width="1" height="44" fill="#c0c0c0"/>
<rect x="688" y="730" width="1" height="42" fill="#c0c0c0"/>
<rect x="692" y="730" width="1" height="40" fill="#c0c0c0"/>
<rect x="696" y="730" width="1" height="37" fill="#c0c0c0"/>
<rect x="700" y="730" width="1" height="37" fill="#c0c0c0"/>
<rect x="704" y="730" width="1" height="37" fill="#c0c0c0"/>
<rect x="708" y="730" width="1" height="38" fill="#c0c0c0"/>
<rect x="712" y="730" width="1" height="42" fill="#c0c0c0"/>
<rect x="716" y="730" width="1" height="45" fill="#c0c0c0"/>
<rect x="720" y="730" width="1" height="45" fill="#c0c0c0"/>
<rect x="724" y="730" width="1" height="45" fill="#c0c0c0"/>
<rect x="728" y="730" width="1" height="44" fill="#c0c0c0"/>
<rect x="732" y="730" width="1" height="41" fill="#c0c0c0"/>
<rect x="736" y="730" width="1" height="38" fill="#c0c0c0"/>
<rect x="740" y="730" width="1" height="35" fill="#c0c0c0"/>
<rect x="744" y="730" width="1" height="33" fill="#c0c0c0"/>
<rect x="748" y="730" width="1" height="32" fill="#c0c0c0"/>
<rect x="752" y="730" width="1" height="33" fill="#c0c0c0"/>
<rect x="756" y="730" width="1" height="32" fill="#c0c0c0"/>
<rect x="760" y="730" width="1" height="31" fill="#c0c0c0"/>
<rect x="764" y="730" width="1" height="30" fill="#c0c0c0"/>
<rect x="768" y="730" width="1" height="26" fill="#c0c0c0"/>
<rect x="772" y="730" width="1" height="23" fill="#c0c0c0"/>
<rect x="776" y="730" width="1" height="21" fill="#c0c0c0"/>
<rect x="780" y="730" width="1" height="22" fill="#c0c0c0"/>
<rect x="784" y="730" width="1" height="22" fill="#c0c0c0"/>
<rect x="788" y="730" width="1" height="19" fill="#c0c0c0"/>
<rect x="792" y="730" width="1" height="18" fill="#c0c0c0"/>
<rect x="796" y="730" width="1" height="20" fill="#c0c0c0"/>
<rect x="800" y="730" width="1" height="22" fill="#c0c0c0"/>
<rect x="804" y="730" width="1" height="23" fill="#c0c0c0"/>
<rect x="808" y="730" width="1" height="22" fill="#c0c0c0"/>
<rect x="812" y="730" width="1" height="28" fill="#c0c0c0"/>
<rect x="816" y="730" width="1" height="34" fill="#c0c0c0"/>
<rect x="820" y="730" width="1" height="37" fill="#c0c0c0"/>
<rect x="824" y="730" width="1" height="36" fill="#c0c0c0"/>
<rect x="828" y="730" width="1" height="37" fill="#c0c0c0"/>
<rect x="832" y="730" width="1" height="36" fill="#c0c0c0"/>
<rect x="836" y="730" width="1" height="33" fill="#c0c0c0"/>
<rect x="840" y="730" width="1" height="34" fill="#c0c0c0"/>
<rect x="844" y="730" width="1" height="33" fill="#c0c0c0"/>
<rect x="848" y="730" width="1" height="30" fill="#c0c0c0"/>
<rect x="852" y="730" width="1" height="27" fill="#c0c0c0"/>
<rect x="856" y="730" width="1" height="24" fill="#c0c0c0"/>
<rect x="860" y="730" width="1" height="20" fill="#c0c0c0"/>
<rect x="864" y="730" width="1" height="19" fill="#c0c0c0"/>
<rect x="868" y="730" width="1" height="20" fill="#c0c0c0"/>
<rect x="872" y="730" width="1" height="19" fill="#c0c0c0"/>
<rect x="876" y="730" width="1" height="16" fill="#c0c0c0"/>
<rect x="880" y="730" width="1" height="12" fill="#c0c0c0"/>
<rect x="884" y="730" width="1" height="10" fill="#c0c0c0"/>
<rect x="888" y="730" width="1" height="11" fill="#c0c0c0"/>
<rect x="892" y="730" width="1" height="9" fill="#c0c0c0"/>
<rect x="896" y="730" width="1" height="9" fill="#c0c0c0"/>
<rect x="900" y="730" width="1" height="13" fill="#c0c0c0"/>
<rect x="904" y="730" width="1" height="15" fill="#c0c0c0"/>
<rect x="908" y="730" width="1" height="14" fill="#c0c0c0"/>
<rect x="912" y="730" width="1" height="14" fill="#c0c0c0"/>
<rect x="916" y="730" width="1" height="14" fill="#c0c0c0"/>
<rect x="920" y="730" width="1" height="12" fill="#c0c0c0"/>
<rect x="924" y="730" width="1" height="12" fill="#c0c0c0"/>
<rect x="928" y="730" width="1" height="13" fill="#c0c0c0"/>
<rect x="932" y="730" width="1" height="15" fill="#c0c0c0"/>
<rect x="936" y="730" width="1" height="19" fill="#c0c0c0"/>
<rect x="940" y="730" width="1" height="21" fill="#c0c0c0"/>
<rect x="944" y="730" width="1" height="24" fill="#c0c0c0"/>
<rect x="948" y="730" width="1" height="25" fill="#c0c0c0"/>
<rect x="952" y="730" width="1" height="26" fill="#c0c0c0"/>
<rect x="956" y="730" width="1" height="29" fill="#c0c0c0"/>
<rect x="960" y="730" width="1" height="28" fill="#c0c0c0"/>
<rect x="964" y="730" width="1" height="24" fill="#c0c0c0"/>
<rect x="968" y="730" width="1" height="18" fill="#c0c0c0"/>
<rect x="972" y="730" width="1" height="15" fill="#c0c0c0"/>
<rect x="976" y="730" width="1" height="11" fill="#c0c0c0"/>
<rect x="980" y="730" width="1" height="7" fill="#c0c0c0"/>
<rect x="984" y="730" width="1" height="5" fill="#c0c0c0"/>
<rect x="988" y="730" width="1" height="5" fill="#c0c0c0"/>
<rect x="992" y="730" width="1" height="3" fill="#c0c0c0"/>
<rect x="996" y="729" width="1" height="2" fill="#c0c0c0"/>
<rect x="1000" y="726" width="1" height="5" fill="#c0c0c0"/>
<rect x="1004" y="725" width="1" height="6" fill="#c0c0c0"/>
<rect x="1008" y="724" width="1" height="7" fill="#c0c0c0"/>
<rect x="1012" y="724" width="1" height="7" fill="#c0c0c0"/>
<rect x="1016" y="723" width="1" height="8" fill="#c0c0c0"/>
<rect x="1020" y="718" width="1" height="13" fill="#c0c0c0"/>
<rect x="1024" y="714" width="1" height="17" fill="#c0c0c0"/>
<rect x="1028" y="707" width="1" height="24" fill="#c0c0c0"/>
<rect x="1032" y="705" width="1" height="26" fill="#c0c0c0"/>
<rect x="1036" y="706" width="1" height="25" fill="#c0c0c0"/>
<rect x="1040" y="709" width="1" height="22" fill="#c0c0c0"/>
<rect x="1044" y="710" width="1" height="21" fill="#c0c0c0"/>
<rect x="1048" y="711" width="1" height="20" fill="#c0c0c0"/>
<rect x="1052" y="712" width="1" height="19" fill="#c0c0c0"/>
<rect x="1056" y="713" width="1" height="18" fill="#c0c0c0"/>
<rect x="1060" y="713" width="1" height="18" fill="#c0c0c0"/>
<rect x="1064" y="714" width="1" height="17" fill="#c0c0c0"/>
<rect x="1068" y="714" width="1" height="17" fill="#c0c0c0"/>
<rect x="1072" y="715" width="1" height="16" fill="#c0c0c0"/>
<rect x="1076" y="715" width="1" height="16" fill="#c0c0c0"/>
<rect x="1080" y="715" width="1" height="16" fill="#c0c0c0"/>
<rect x="1084" y="714" width="1" height="17" fill="#c0c0c0"/>
<rect x="1088" y="710" width="1" height="21" fill="#c0c0c0"/>
<rect x="1092" y="708" width="1" height="23" fill="#c0c0c0"/>
<rect x="1096" y="707" width="1" height="24" fill="#c0c0c0"/>
<rect x="1100" y="703" width="1" height="28" fill="#c0c0c0"/>
<rect x="1104" y="700" width="1" height="31" fill="#c0c0c0"/>
<rect x="1108" y="699" width="1" height="32" fill="#c0c0c0"/>
<rect x="1112" y="697" width="1" height="34" fill="#c0c0c0"/>
<rect x="1116" y="697" width="1" height="34" fill="#c0c0c0"/>
<rect x="1120" y="697" width="1" height="34" fill="#c0c0c0"/>
<rect x="1124" y="699" width="1" height="32" fill="#c0c0c0"/>
<rect x="1128" y="703" width="1" height="28" fill="#c0c0c0"/>
<rect x="1132" y="705" width="1" height="26" fill="#c0c0c0"/>
<rect x="1136" y="706" width="1" height="25" fill="#c0c0c0"/>
<rect x="1140" y="707" width="1" height="24" fill="#c0c0c0"/>
<rect x="1144" y="708" width="1" height="23" fill="#c0c0c0"/>
<rect x="1148" y="710" width="1" height="21" fill="#c0c0c0"/>
<rect x="1152" y="713" width="1" height="18" fill="#c0c0c0"/>
<rect x="1156" y="717" width="1" height="14" fill="#c0c0c0"/>
<rect x="1160" y="721" width="1" height="10" fill="#c0c0c0"/>
<rect x="1164" y="724" width="1" height="7" fill="#c0c0c0"/>
<rect x="1168" y="726" width="1" height="5" fill="#c0c0c0"/>
<rect x="1172" y="730" width="1" height="1" fill="#c0c0c0"/>
<rect x="1176" y="730" width="1" height="5" fill="#c0c0c0"/>
<rect x="1180" y="730" width="1" height="10" fill="#c0c0c0"/>
<rect x="1184" y="730" width="1" height="13" fill="#c0c0c0"/>
<rect x="1188" y="730" width="1" height="15" fill="#c0c0c0"/>
<rect x="1192" y="730" width="1" height="17" fill="#c0c0c0"/>
<rect x="1196" y="730" width="1" height="20" fill="#c0c0c0"/>
<rect x="1200" y="730" width="1" height="22" fill="#c0c0c0"/>
<rect x="1204" y="730" width="1" height="23" fill="#c0c0c0"/>
<rect x="1208" y="730" width="1" height="26" fill="#c0c0c0"/>
<rect x="1212" y="730" width="1" height="26" fill="#c0c0c0"/>
<rect x="1216" y="730" width="1" height="26" fill="#c0c0c0"/>
<rect x="1220" y="730" width="1" height="26" fill="#c0c0c0"/>
<rect x="1224" y="730" width="1" height="24" fill="#c0c0c0"/>
<rect x="1228" y="730" width="1" height="22" fill="#c0c0c0"/>
<rect x="1232" y="730" width="1" height="23" fill="#c0c0c0"/>
<rect x="1236" y="730" width="1" height="29" fill="#c0c0c0"/>
<rect x="1240" y="730" width="1" height="33" fill="#c0c0c0"/>
<rect x="1244" y="730" width="1" height="37" fill="#c0c0c0"/>
<rect x="1248" y="730" width="1" height="38" fill="#c0c0c0"/>
<rect x="1252" y="730" width="1" height="34" fill="#c0c0c0"/>
<rect x="1256" y="730" width="1" height="32" fill="#c0c0c0"/>
<rect x="1260" y="730" width="1" height="31" fill="#c0c0c0"/>
<rect x="1264" y="730" width="1" height="30" fill="#c0c0c0"/>
<rect x="1268" y="730" width="1" height="28" fill="#c0c0c0"/>
</g>
<polyline points="4,715.2 8,716.0 12,716.7 16,717.1 20,717.0 24,716.7 28,716.6 32,716.9 36,716.9 40,716.5 44,715.8 48,715.0 52,714.5 56,713.5 60,712.4 64,711.1 68,709.5 72,708.5 76,708.4 80,708.9 84,710.0 88,712.1 92,715.5 96,719.6 100,724.1 104,729.0 108,733.7 112,737.8 116,741.4 120,744.6 124,746.6 128,747.9 132,748.5 136,748.7 140,748.3 144,748.0 148,747.8 152,747.6 156,747.2 160,746.7 164,746.0 168,745.4 172,744.8 176,744.3 180,743.6 184,742.7 188,741.9 192,742.1 196,743.1 200,744.8 204,747.0 208,749.4 212,751.8 216,754.4 220,756.8 224,759.5 228,761.7 232,763.3 236,764.3 240,764.9 244,765.3 248,765.3 252,764.9 256,764.0 260,762.5 264,760.8 268,759.0 272,757.2 276,755.1 280,753.1 284,751.4 288,750.1 292,749.5 296,749.9 300,750.7 304,751.4 308,752.2 312,753.2 316,754.3 320,755.6 324,756.8 328,757.9 332,758.3 336,758.6 340,759.2 344,760.2 348,761.3 352,762.0 356,762.4 360,762.8 364,763.2 368,763.9 372,764.7 376,765.5 380,766.5 384,767.5 388,769.2 392,771.2 396,773.2 400,775.0 404,776.7 408,778.0 412,778.7 416,779.1 420,779.0 424,778.2 428,777.1 432,776.3 436,775.9 440,776.2 444,776.8 448,777.9 452,778.9 456,779.4 460,780.0 464,780.1 468,779.3 472,777.3 476,774.2 480,770.6 484,766.6 488,762.9 492,760.5 496,758.6 500,757.6 504,758.0 508,759.3 512,761.3 516,763.5 520,766.7 524,770.1 528,772.3 532,773.8 536,775.0 540,775.5 544,776.0 548,776.3 552,776.8 556,777.1 560,777.4 564,778.1 568,779.0 572,779.8 576,780.0 580,779.4 584,777.9 588,775.6 592,772.9 596,769.5 600,766.1 604,762.9 608,760.4 612,759.2 616,759.5 620,761.3 624,763.6 628,766.1 632,768.7 636,771.4 640,773.9 644,776.0 648,777.6 652,778.8 656,779.5 660,780.2 664,780.8 668,781.6 672,781.9 676,781.9 680,781.6 684,780.9 688,779.5 692,777.7 696,775.7 700,773.6 704,771.5 708,770.0 712,769.3 716,769.3 720,769.3 724,769.6 728,770.1 732,770.5 736,770.6 740,770.4 744,769.8 748,768.8 752,767.5 756,766.1 760,764.6 764,763.0 768,761.4 772,759.8 776,758.2 780,756.9 784,755.8 788,754.2 792,752.6 796,751.3 800,750.5 804,750.0 808,750.0 812,750.8 816,752.1 820,753.8 824,755.7 828,757.7 832,759.5 836,760.8 840,762.1 844,763.2 848,763.4 852,762.6 856,761.2 860,759.4 864,757.3 868,755.5 872,753.9 876,751.9 880,749.6 884,747.4 888,745.7 892,744.0 896,742.8 900,742.2 904,741.8 908,741.1 912,741.0 916,741.2 920,741.4 924,741.5 928,742.0 932,742.6 936,743.3 940,743.9 944,745.1 948,746.3 952,747.7 956,749.5 960,751.2 964,752.5 968,752.8 972,752.3 976,751.2 980,749.4 984,747.2 988,744.8 992,742.0 996,738.9 1000,735.9 1004,733.4 1008,731.2 1012,729.4 1016,728.0 1020,726.1 1024,724.0 1028,721.2 1032,718.6 1036,716.3 1040,714.4 1044,712.9 1048,711.4 1052,710.1 1056,709.7 1060,709.6 1064,710.3 1068,711.2 1072,712.2 1076,713.0 1080,713.6 1084,713.9 1088,713.7 1092,713.2 1096,712.5 1100,711.3 1104,709.7 1108,708.0 1112,706.0 1116,704.0 1120,702.1 1124,700.8 1128,700.2 1132,700.0 1136,700.3 1140,701.2 1144,702.1 1148,703.5 1152,705.3 1156,707.6 1160,710.0 1164,712.3 1168,714.6 1172,717.3 1176,720.3 1180,723.7 1184,727.2 1188,730.7 1192,733.9 1196,737.0 1200,740.0 1204,742.9 1208,745.7 1212,748.0 1216,749.9 1220,751.4 1224,752.4 1228,753.0 1232,753.3 1236,754.2 1240,755.2 1244,756.5 1248,757.8 1252,758.6 1256,759.2 1260,760.0 1264,760.8 1268,761.4" fill="none" stroke="#ff0000" stroke-width="1" stroke-dasharray="3,3" shape-rendering="crispEdges"/>
<text x="8" y="703" font-size="9.5" fill="#000" textLength="154" lengthAdjust="spacingAndGlyphs" stroke="#000" stroke-width="0.15">MACD(12,26,9) -0.018326 -0.021021</text>
<rect x="1597" y="692" width="3" height="1" fill="#000"/>
<rect x="1597" y="730" width="3" height="1" fill="#000"/>
<rect x="1597" y="790" width="3" height="1" fill="#000"/>
<text x="1600" y="701" font-size="9.5" fill="#000" textLength="36" lengthAdjust="spacingAndGlyphs" stroke="#000" stroke-width="0.15">0.025623</text>
<text x="1600" y="734" font-size="9.5" fill="#000" textLength="18" lengthAdjust="spacingAndGlyphs" stroke="#000" stroke-width="0.15">0.00</text>
<text x="1600" y="789" font-size="9.5" fill="#000" textLength="36" lengthAdjust="spacingAndGlyphs" stroke="#000" stroke-width="0.15">-0.04068</text>
<rect x="4" y="792" width="1" height="3" fill="#000"/>
<text x="4" y="803.5" font-size="9.5" fill="#000" textLength="53.19" lengthAdjust="spacingAndGlyphs" stroke="#000" stroke-width="0.15">12 May 2020</text>
<rect x="68" y="792" width="1" height="3" fill="#000"/>
<text x="68" y="803.5" font-size="9.5" fill="#000" textLength="53.19" lengthAdjust="spacingAndGlyphs" stroke="#000" stroke-width="0.15">30 May 2020</text>
<rect x="132" y="792" width="1" height="3" fill="#000"/>
<text x="132" y="803.5" font-size="9.5" fill="#000" textLength="50.64" lengthAdjust="spacingAndGlyphs" stroke="#000" stroke-width="0.15">18 Jun 2020</text>
<rect x="196" y="792" width="1" height="3" fill="#000"/>
<text x="196" y="803.5" font-size="9.5" fill="#000" textLength="42.45" lengthAdjust="spacingAndGlyphs" stroke="#000" stroke-width="0.15">7 Jul 2020</text>
<rect x="260" y="792" width="1" height="3" fill="#000"/>
<text x="260" y="803.5" font-size="9.5" fill="#000" textLength="47.57" lengthAdjust="spacingAndGlyphs" stroke="#000" stroke-width="0.15">25 Jul 2020</text>
<rect x="324" y="792" width="1" height="3" fill="#000"/>
<text x="324" y="803.5" font-size="9.5" fill="#000" textLength="51.67" lengthAdjust="spacingAndGlyphs" stroke="#000" stroke-width="0.15">13 Aug 2020</text>
<rect x="388" y="792" width="1" height="3" fill="#000"/>
<text x="388" y="803.5" font-size="9.5" fill="#000" textLength="47.06" lengthAdjust="spacingAndGlyphs" stroke="#000" stroke-width="0.15">1 Sep 2020</text>
<rect x="452" y="792" width="1" height="3" fill="#000"/>
<text x="452" y="803.5" font-size="9.5" fill="#000" textLength="52.18" lengthAdjust="spacingAndGlyphs" stroke="#000" stroke-width="0.15">19 Sep 2020</text>
<rect x="516" y="792" width="1" height="3" fill="#000"/>
<text x="516" y="803.5" font-size="9.5" fill="#000" textLength="45.0" lengthAdjust="spacingAndGlyphs" stroke="#000" stroke-width="0.15">8 Oct 2020</text>
<rect x="580" y="792" width="1" height="3" fill="#000"/>
<text x="580" y="803.5" font-size="9.5" fill="#000" textLength="50.12" lengthAdjust="spacingAndGlyphs" stroke="#000" stroke-width="0.15">27 Oct 2020</text>
<rect x="644" y="792" width="1" height="3" fill="#000"/>
<text x="644" y="803.5" font-size="9.5" fill="#000" textLength="52.17" lengthAdjust="spacingAndGlyphs" stroke="#000" stroke-width="0.15">14 Nov 2020</text>
<rect x="708" y="792" width="1" height="3" fill="#000"/>
<text x="708" y="803.5" font-size="9.5" fill="#000" textLength="47.05" lengthAdjust="spacingAndGlyphs" stroke="#000" stroke-width="0.15">3 Dec 2020</text>
<rect x="772" y="792" width="1" height="3" fill="#000"/>
<text x="772" y="803.5" font-size="9.5" fill="#000" textLength="52.17" lengthAdjust="spacingAndGlyphs" stroke="#000" stroke-width="0.15">22 Dec 2020</text>
<rect x="836" y="792" width="1" height="3" fill="#000"/>
<text x="836" y="803.5" font-size="9.5" fill="#000" textLength="49.96" lengthAdjust="spacingAndGlyphs" stroke="#000" stroke-width="0.15">11 Jan 2021</text>
<rect x="900" y="792" width="1" height="3" fill="#000"/>
<text x="900" y="803.5" font-size="9.5" fill="#000" textLength="50.64" lengthAdjust="spacingAndGlyphs" stroke="#000" stroke-width="0.15">29 Jan 2021</text>
<rect x="964" y="792" width="1" height="3" fill="#000"/>
<text x="964" y="803.5" font-size="9.5" fill="#000" textLength="51.66" lengthAdjust="spacingAndGlyphs" stroke="#000" stroke-width="0.15">17 Feb 2021</text>
<rect x="1028" y="792" width="1" height="3" fill="#000"/>
<text x="1028" y="803.5" font-size="9.5" fill="#000" textLength="46.53" lengthAdjust="spacingAndGlyphs" stroke="#000" stroke-width="0.15">8 Mar 2021</text>
<rect x="1092" y="792" width="1" height="3" fill="#000"/>
<text x="1092" y="803.5" font-size="9.5" fill="#000" textLength="51.65" lengthAdjust="spacingAndGlyphs" stroke="#000" stroke-width="0.15">26 Mar 2021</text>
<rect x="1156" y="792" width="1" height="3" fill="#000"/>
<text x="1156" y="803.5" font-size="9.5" fill="#000" textLength="49.62" lengthAdjust="spacingAndGlyphs" stroke="#000" stroke-width="0.15">14 Apr 2021</text>
<rect x="1220" y="792" width="1" height="3" fill="#000"/>
<text x="1220" y="803.5" font-size="9.5" fill="#000" textLength="48.07" lengthAdjust="spacingAndGlyphs" stroke="#000" stroke-width="0.15">3 May 2021</text>
<rect x="0" y="812" width="1636" height="1" fill="#e3e3e3"/>
<rect x="0" y="813" width="1636" height="1" fill="#ffffff"/>
<rect x="0" y="814" width="1636" height="1" fill="#000"/>
<rect x="0" y="815" width="1636" height="19" fill="#f0f0f0"/>
<rect x="0" y="834" width="1636" height="2" fill="#f8f8f8"/>
<rect x="0" y="815" width="1" height="19" fill="#6b6b6b"/>
<rect x="417" y="813" width="104" height="20" fill="#ffffff"/>
<rect x="417" y="814" width="1" height="19" fill="#000"/>
<rect x="520" y="814" width="1" height="19" fill="#000"/>
<rect x="417" y="832" width="104" height="1" fill="#000"/>
<text x="17.5" y="829" font-size="12.5" fill="#6d6d6d" textLength="79.5" lengthAdjust="spacingAndGlyphs" stroke="#6d6d6d" stroke-width="0.15">EURUSD,Daily</text>
<text x="119.4" y="829" font-size="12.5" fill="#6d6d6d" textLength="78.3" lengthAdjust="spacingAndGlyphs" stroke="#6d6d6d" stroke-width="0.15">USDCHF,Daily</text>
<text x="220.3" y="829" font-size="12.5" fill="#6d6d6d" textLength="81.7" lengthAdjust="spacingAndGlyphs" stroke="#6d6d6d" stroke-width="0.15">AUDUSD,Daily</text>
<text x="324" y="829" font-size="12.5" fill="#6d6d6d" textLength="80.9" lengthAdjust="spacingAndGlyphs" stroke="#6d6d6d" stroke-width="0.15">USDCAD,Daily</text>
<text x="427.5" y="829" font-size="12.5" fill="#000" textLength="82" lengthAdjust="spacingAndGlyphs" stroke="#000" stroke-width="0.15">USDCNH,Daily</text>
<text x="533.2" y="829" font-size="12.5" fill="#6d6d6d" textLength="79.6" lengthAdjust="spacingAndGlyphs" stroke="#6d6d6d" stroke-width="0.15">EURUSD,Daily</text>
<text x="637.2" y="829" font-size="12.5" fill="#6d6d6d" textLength="79.6" lengthAdjust="spacingAndGlyphs" stroke="#6d6d6d" stroke-width="0.15">GBPUSD,Daily</text>
<text x="740" y="829" font-size="12.5" fill="#6d6d6d" textLength="68.7" lengthAdjust="spacingAndGlyphs" stroke="#6d6d6d" stroke-width="0.15">XAUUSD,H4</text>
<text x="833.1" y="829" font-size="12.5" fill="#6d6d6d" textLength="59.6" lengthAdjust="spacingAndGlyphs" stroke="#6d6d6d" stroke-width="0.15">HK50,M15</text>
<text x="916" y="829" font-size="12.5" fill="#6d6d6d" textLength="57" lengthAdjust="spacingAndGlyphs" stroke="#6d6d6d" stroke-width="0.15">UK100,H1</text>
<text x="996.1" y="829" font-size="12.5" fill="#6d6d6d" textLength="56.5" lengthAdjust="spacingAndGlyphs" stroke="#6d6d6d" stroke-width="0.15">UK100,H1</text>
<text x="1076.2" y="829" font-size="12.5" fill="#6d6d6d" textLength="56" lengthAdjust="spacingAndGlyphs" stroke="#6d6d6d" stroke-width="0.15">GER30,H1</text>
<text x="1155.3" y="829" font-size="12.5" fill="#6d6d6d" textLength="54.7" lengthAdjust="spacingAndGlyphs" stroke="#6d6d6d" stroke-width="0.15">FRA40,H1</text>
<text x="1231.4" y="829" font-size="12.5" fill="#6d6d6d" textLength="50.6" lengthAdjust="spacingAndGlyphs" stroke="#6d6d6d" stroke-width="0.15">USOil,H1</text>
<text x="1303.3" y="829" font-size="12.5" fill="#6d6d6d" textLength="62.4" lengthAdjust="spacingAndGlyphs" stroke="#6d6d6d" stroke-width="0.15">USDJPY,H1</text>
<text x="1388.5" y="829" font-size="12.5" fill="#6d6d6d" textLength="72.7" lengthAdjust="spacingAndGlyphs" stroke="#6d6d6d" stroke-width="0.15">DJ30,Weekly</text>
<text x="1483.5" y="829" font-size="12.5" fill="#6d6d6d" textLength="78.3" lengthAdjust="spacingAndGlyphs" stroke="#6d6d6d" stroke-width="0.15">CHINA300,H1</text>
<text x="1583.1" y="829" font-size="12.5" fill="#6d6d6d" textLength="23.1" lengthAdjust="spacingAndGlyphs" stroke="#6d6d6d" stroke-width="0.15">USC</text>
<rect x="110" y="817" width="1" height="14" fill="#646464"/>
<rect x="210" y="817" width="1" height="14" fill="#646464"/>
<rect x="314" y="817" width="1" height="14" fill="#646464"/>
<rect x="625" y="817" width="1" height="14" fill="#646464"/>
<rect x="730" y="817" width="1" height="14" fill="#646464"/>
<rect x="821" y="817" width="1" height="14" fill="#646464"/>
<rect x="905" y="817" width="1" height="14" fill="#646464"/>
<rect x="985" y="817" width="1" height="14" fill="#646464"/>
<rect x="1065" y="817" width="1" height="14" fill="#646464"/>
<rect x="1145" y="817" width="1" height="14" fill="#646464"/>
<rect x="1222" y="817" width="1" height="14" fill="#646464"/>
<rect x="1293" y="817" width="1" height="14" fill="#646464"/>
<rect x="1377" y="817" width="1" height="14" fill="#646464"/>
<rect x="1473" y="817" width="1" height="14" fill="#646464"/>
<rect x="1573" y="817" width="1" height="14" fill="#646464"/>
<rect x="1606" y="815" width="30" height="19" fill="#f0f0f0"/>
<path d="M1615 819 L1611.5 823 L1615 827 Z" fill="#a0a0a0"/>
<path d="M1630 819 L1633.5 823 L1630 827 Z" fill="#000"/>
</svg></body></html>
